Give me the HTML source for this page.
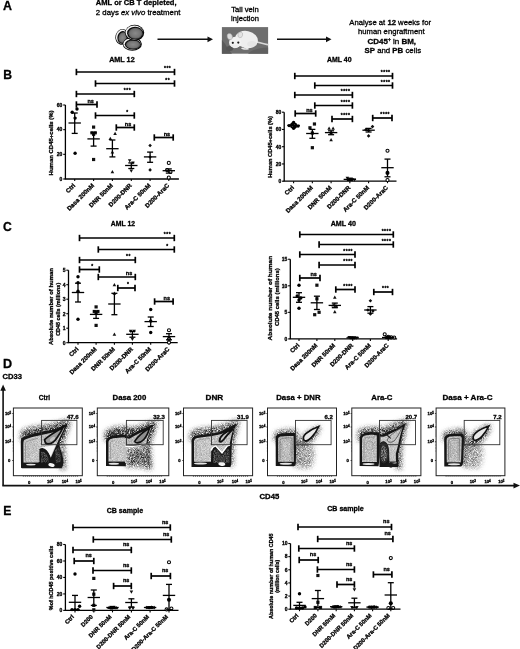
<!DOCTYPE html>
<html><head><meta charset="utf-8"><title>Figure</title>
<style>
html,body{margin:0;padding:0;background:#fff;}
svg.fig{display:block;}
svg.fig text{font-family:'Liberation Sans', Arial, Helvetica, sans-serif;fill:#000;stroke:#000;stroke-width:0.3px;}
</style></head>
<body>
<svg class="fig" width="520" height="649" viewBox="0 0 520 649">
<defs>
<radialGradient id="cellg" cx="0.5" cy="0.5" r="0.6"><stop offset="0" stop-color="#8a8a8a"/><stop offset="0.6" stop-color="#747474"/><stop offset="1" stop-color="#3c3c3c"/></radialGradient>
<filter id="blur2" x="-20%" y="-20%" width="140%" height="140%"><feGaussianBlur stdDeviation="2"/></filter>
<filter id="blur1" x="-20%" y="-20%" width="140%" height="140%"><feGaussianBlur stdDeviation="1"/></filter>
<filter id="blur05" x="-20%" y="-20%" width="140%" height="140%"><feGaussianBlur stdDeviation="0.5"/></filter>
<filter id="b04" x="-10%" y="-10%" width="120%" height="120%"><feGaussianBlur stdDeviation="0.4"/></filter>
<filter id="spk" x="-40%" y="-40%" width="180%" height="180%" color-interpolation-filters="sRGB">
<feGaussianBlur in="SourceAlpha" stdDeviation="2.4" result="d"/>
<feTurbulence type="fractalNoise" baseFrequency="1.25" numOctaves="2" seed="4" result="t"/>
<feColorMatrix in="t" type="matrix" values="0 0 0 0 0 0 0 0 0 0 0 0 0 0 0 1 0 0 0 0" result="n"/>
<feComposite in="d" in2="n" operator="arithmetic" k1="3.4" k2="-0.6" k3="0" k4="0" result="c"/>
<feColorMatrix in="c" type="matrix" values="0 0 0 0 0.17 0 0 0 0 0.17 0 0 0 0 0.17 0 0 0 1 0"/>
</filter>
<filter id="spk0" x="-10%" y="-10%" width="120%" height="120%" color-interpolation-filters="sRGB">
<feTurbulence type="fractalNoise" baseFrequency="1.25" numOctaves="2" seed="9" result="t"/>
<feColorMatrix in="t" type="matrix" values="0 0 0 0 0 0 0 0 0 0 0 0 0 0 0 1 0 0 0 0" result="n"/>
<feComposite in="SourceAlpha" in2="n" operator="arithmetic" k1="3.4" k2="-0.6" k3="0" k4="0" result="c"/>
<feColorMatrix in="c" type="matrix" values="0 0 0 0 0.12 0 0 0 0 0.12 0 0 0 0 0.12 0 0 0 1 0"/>
</filter>
<filter id="wspk" x="-10%" y="-10%" width="120%" height="120%" color-interpolation-filters="sRGB">
<feTurbulence type="fractalNoise" baseFrequency="1.1" numOctaves="2" seed="13" result="t"/>
<feColorMatrix in="t" type="matrix" values="0 0 0 0 0 0 0 0 0 0 0 0 0 0 0 1 0 0 0 0" result="n"/>
<feComposite in="SourceAlpha" in2="n" operator="arithmetic" k1="3.4" k2="-0.9" k3="0" k4="0" result="c"/>
<feColorMatrix in="c" type="matrix" values="0 0 0 0 0.75 0 0 0 0 0.75 0 0 0 0 0.75 0 0 0 1 0"/>
</filter>
</defs>
<rect width="520" height="649" fill="#fff"/>
<text x="3.00" y="10.10" font-size="12.4" font-weight="bold" >A</text>
<text x="136.20" y="5.40" font-size="7.5" font-weight="bold" text-anchor="middle" textLength="80.7" lengthAdjust="spacingAndGlyphs" >AML or CB T depleted,</text>
<text x="138.1" y="14.6" font-size="7.6" text-anchor="middle" textLength="84.6" lengthAdjust="spacingAndGlyphs">2 days <tspan font-style="italic">ex vivo</tspan> treatment</text>
<text x="245.00" y="11.90" font-size="7.6" text-anchor="middle" textLength="27.6" lengthAdjust="spacingAndGlyphs" >Tail vein</text>
<text x="245.00" y="20.60" font-size="7.6" text-anchor="middle" textLength="27.8" lengthAdjust="spacingAndGlyphs" >injection</text>
<text x="390.2" y="25.0" font-size="7.7" text-anchor="middle" textLength="81.7" lengthAdjust="spacingAndGlyphs">Analyse at <tspan font-weight="bold">12</tspan> weeks for</text>
<text x="391.3" y="34.0" font-size="7.7" text-anchor="middle" textLength="66.5" lengthAdjust="spacingAndGlyphs">human engraftment</text>
<text x="391.8" y="43.5" font-size="7.6" text-anchor="middle" textLength="48.5" lengthAdjust="spacingAndGlyphs"><tspan font-weight="bold">CD45</tspan><tspan font-size="4.5" dy="-2.6" font-weight="bold">+</tspan><tspan dy="2.6"> in </tspan><tspan font-weight="bold">BM,</tspan></text>
<text x="392.8" y="52.7" font-size="7.6" text-anchor="middle" textLength="56.5" lengthAdjust="spacingAndGlyphs"><tspan font-weight="bold">SP</tspan> and <tspan font-weight="bold">PB</tspan> cells</text>
<g transform="rotate(15 122.0 36.8)"><ellipse cx="122.0" cy="36.8" rx="6.6" ry="7.9" fill="#0a0a0a"/><ellipse cx="121.7" cy="36.599999999999994" rx="5.699999999999999" ry="7.0" fill="#f4f4f4"/><ellipse cx="122.5" cy="37.15" rx="5.0" ry="6.300000000000001" fill="#0a0a0a"/><ellipse cx="122.8" cy="37.349999999999994" rx="4.1" ry="5.4" fill="url(#cellg)"/></g>
<g transform="rotate(0 132.3 44.0)"><ellipse cx="132.3" cy="44.0" rx="9.6" ry="6.8" fill="#0a0a0a"/><ellipse cx="132.0" cy="43.8" rx="8.7" ry="5.8999999999999995" fill="#f4f4f4"/><ellipse cx="132.8" cy="44.35" rx="8.0" ry="5.199999999999999" fill="#0a0a0a"/><ellipse cx="133.10000000000002" cy="44.55" rx="7.1" ry="4.3" fill="url(#cellg)"/></g>
<g transform="rotate(0 134.6 32.8)"><ellipse cx="134.6" cy="32.8" rx="9.6" ry="8.0" fill="#0a0a0a"/><ellipse cx="134.29999999999998" cy="32.599999999999994" rx="8.7" ry="7.1" fill="#f4f4f4"/><ellipse cx="135.1" cy="33.15" rx="8.0" ry="6.4" fill="#0a0a0a"/><ellipse cx="135.4" cy="33.349999999999994" rx="7.1" ry="5.5" fill="url(#cellg)"/></g>
<line x1="157.50" y1="39.30" x2="209.00" y2="39.30" stroke="#111" stroke-width="1.5"/>
<path d="M213,39.3 L207.5,36.4 L207.5,42.2 Z" fill="#111"/>
<line x1="277.00" y1="39.30" x2="327.50" y2="39.30" stroke="#111" stroke-width="1.5"/>
<path d="M331.5,39.3 L326,36.4 L326,42.2 Z" fill="#111"/>
<g>
<rect x="221.9" y="27.1" width="46.2" height="26.6" fill="#6e6e6e"/>
<path d="M221.9,40 C226,44 228,50 232,53.7 L221.9,53.7 Z" fill="#5a5a5a"/>
<path d="M248,53.7 C252,50 258,48 268.1,47.5 L268.1,53.7 Z" fill="#606060"/>
<ellipse cx="229.6" cy="48.5" rx="3.5" ry="2.5" fill="#555"/>
<path d="M255,41.5 C259,42.5 263,44 267.5,44.6" stroke="#d8d8d8" stroke-width="1.6" fill="none" stroke-linecap="round"/>
<ellipse cx="246.5" cy="39.6" rx="11.5" ry="8.6" fill="#eeeeee" transform="rotate(12 246.5 39.6)"/>
<ellipse cx="235.2" cy="42.4" rx="6.2" ry="5.6" fill="#f2f2f2"/>
<path d="M231,45 C232,47.5 234,48.5 236,48 C238,47.5 239,46 239,45 Z" fill="#ededed"/>
<path d="M241,48.5 C243,50 246,50.3 249,49.2 L248,47.8 C246,48.3 244,48.3 242,47.6 Z" fill="#e8e8e8"/>
<ellipse cx="229.8" cy="36.6" rx="2.6" ry="3.2" fill="#dcdcdc" stroke="#9c9c9c" stroke-width="0.5" transform="rotate(-20 229.8 36.6)"/>
<ellipse cx="240.3" cy="34.8" rx="2.3" ry="2.9" fill="#e2e2e2" stroke="#aaa" stroke-width="0.5" transform="rotate(15 240.3 34.8)"/>
<circle cx="232.8" cy="42.8" r="1.1" fill="#1a1a1a"/>
<circle cx="238.3" cy="42.6" r="1.1" fill="#1a1a1a"/>
<ellipse cx="252" cy="44" rx="5" ry="3" fill="#d6d6d6" opacity="0.35"/>
</g>
<text x="3.20" y="79.00" font-size="12.2" font-weight="bold" >B</text>
<text x="2.90" y="231.30" font-size="12.2" font-weight="bold" >C</text>
<text x="3.20" y="515.40" font-size="12.2" font-weight="bold" >E</text>
<line x1="65.40" y1="179.00" x2="65.40" y2="105.00" stroke="#000" stroke-width="1.3"/>
<line x1="63.20" y1="179.00" x2="65.40" y2="179.00" stroke="#000" stroke-width="1.1"/>
<text x="62.40" y="180.80" font-size="5.0" font-weight="bold" text-anchor="end" >0</text>
<line x1="63.20" y1="154.33" x2="65.40" y2="154.33" stroke="#000" stroke-width="1.1"/>
<text x="62.40" y="156.13" font-size="5.0" font-weight="bold" text-anchor="end" >20</text>
<line x1="63.20" y1="129.67" x2="65.40" y2="129.67" stroke="#000" stroke-width="1.1"/>
<text x="62.40" y="131.47" font-size="5.0" font-weight="bold" text-anchor="end" >40</text>
<line x1="63.20" y1="105.00" x2="65.40" y2="105.00" stroke="#000" stroke-width="1.1"/>
<text x="62.40" y="106.80" font-size="5.0" font-weight="bold" text-anchor="end" >60</text>
<line x1="64.75" y1="179.00" x2="178.90" y2="179.00" stroke="#000" stroke-width="1.3"/>
<line x1="74.70" y1="179.00" x2="74.70" y2="181.00" stroke="#000" stroke-width="1.1"/>
<text x="0" y="0" font-size="6.15" font-weight="bold" text-anchor="end" transform="translate(72.50,182.80) rotate(-45) translate(0,4.43)">Ctrl</text>
<line x1="93.60" y1="179.00" x2="93.60" y2="181.00" stroke="#000" stroke-width="1.1"/>
<text x="0" y="0" font-size="6.15" font-weight="bold" text-anchor="end" transform="translate(91.40,182.80) rotate(-45) translate(0,4.43)">Dasa 200nM</text>
<line x1="112.40" y1="179.00" x2="112.40" y2="181.00" stroke="#000" stroke-width="1.1"/>
<text x="0" y="0" font-size="6.15" font-weight="bold" text-anchor="end" transform="translate(110.20,182.80) rotate(-45) translate(0,4.43)">DNR 50nM</text>
<line x1="131.30" y1="179.00" x2="131.30" y2="181.00" stroke="#000" stroke-width="1.1"/>
<text x="0" y="0" font-size="6.15" font-weight="bold" text-anchor="end" transform="translate(129.10,182.80) rotate(-45) translate(0,4.43)">D200-DNR</text>
<line x1="150.10" y1="179.00" x2="150.10" y2="181.00" stroke="#000" stroke-width="1.1"/>
<text x="0" y="0" font-size="6.15" font-weight="bold" text-anchor="end" transform="translate(147.90,182.80) rotate(-45) translate(0,4.43)">Ara-C 50nM</text>
<line x1="168.80" y1="179.00" x2="168.80" y2="181.00" stroke="#000" stroke-width="1.1"/>
<text x="0" y="0" font-size="6.15" font-weight="bold" text-anchor="end" transform="translate(166.60,182.80) rotate(-45) translate(0,4.43)">D200-AraC</text>
<text x="0" y="0" font-size="6.0" font-weight="bold" text-anchor="middle" textLength="65" lengthAdjust="spacingAndGlyphs" transform="translate(52.96,142.90) rotate(-90)">Human CD45+cells (%)</text>
<text x="121.90" y="62.00" font-size="7.2" font-weight="bold" text-anchor="middle" textLength="25.5" lengthAdjust="spacingAndGlyphs" >AML 12</text>
<circle cx="77.00" cy="109.00" r="1.70" fill="#000"/>
<circle cx="72.20" cy="112.20" r="1.70" fill="#000"/>
<circle cx="75.10" cy="118.10" r="1.70" fill="#000"/>
<circle cx="75.10" cy="153.30" r="1.70" fill="#000"/>
<line x1="68.50" y1="123.00" x2="80.90" y2="123.00" stroke="#000" stroke-width="1.3"/>
<line x1="74.70" y1="113.00" x2="74.70" y2="133.40" stroke="#000" stroke-width="1.3"/>
<line x1="71.70" y1="113.00" x2="77.70" y2="113.00" stroke="#000" stroke-width="1.3"/>
<line x1="71.70" y1="133.40" x2="77.70" y2="133.40" stroke="#000" stroke-width="1.3"/>
<rect x="92.00" y="125.50" width="3.20" height="3.20" fill="#111"/>
<rect x="90.40" y="131.20" width="3.20" height="3.20" fill="#111"/>
<rect x="93.60" y="131.20" width="3.20" height="3.20" fill="#111"/>
<rect x="92.00" y="132.70" width="3.20" height="3.20" fill="#111"/>
<rect x="92.00" y="157.90" width="3.20" height="3.20" fill="#111"/>
<line x1="87.40" y1="138.90" x2="99.80" y2="138.90" stroke="#000" stroke-width="1.3"/>
<line x1="93.60" y1="132.60" x2="93.60" y2="146.10" stroke="#000" stroke-width="1.3"/>
<line x1="90.60" y1="132.60" x2="96.60" y2="132.60" stroke="#000" stroke-width="1.3"/>
<line x1="90.60" y1="146.10" x2="96.60" y2="146.10" stroke="#000" stroke-width="1.3"/>
<path d="M115.10,131.80L116.90,135.04L113.30,135.04Z" fill="#111"/>
<path d="M110.30,136.80L112.10,140.04L108.50,140.04Z" fill="#111"/>
<path d="M112.40,150.30L114.20,153.54L110.60,153.54Z" fill="#111"/>
<path d="M112.40,169.90L114.20,173.14L110.60,173.14Z" fill="#111"/>
<line x1="106.20" y1="148.70" x2="118.60" y2="148.70" stroke="#000" stroke-width="1.3"/>
<line x1="112.40" y1="140.00" x2="112.40" y2="156.90" stroke="#000" stroke-width="1.3"/>
<line x1="109.40" y1="140.00" x2="115.40" y2="140.00" stroke="#000" stroke-width="1.3"/>
<line x1="109.40" y1="156.90" x2="115.40" y2="156.90" stroke="#000" stroke-width="1.3"/>
<path d="M129.70,162.60L131.50,159.36L127.90,159.36Z" fill="#111"/>
<path d="M132.90,164.70L134.70,161.46L131.10,161.46Z" fill="#111"/>
<path d="M131.30,172.80L133.10,169.56L129.50,169.56Z" fill="#111"/>
<line x1="125.10" y1="165.50" x2="137.50" y2="165.50" stroke="#000" stroke-width="1.3"/>
<line x1="131.30" y1="162.90" x2="131.30" y2="168.50" stroke="#000" stroke-width="1.3"/>
<line x1="128.30" y1="162.90" x2="134.30" y2="162.90" stroke="#000" stroke-width="1.3"/>
<line x1="128.30" y1="168.50" x2="134.30" y2="168.50" stroke="#000" stroke-width="1.3"/>
<path d="M150.10,143.70L151.90,145.50L150.10,147.30L148.30,145.50Z" fill="#111"/>
<path d="M150.10,155.20L151.90,157.00L150.10,158.80L148.30,157.00Z" fill="#111"/>
<path d="M150.10,168.10L151.90,169.90L150.10,171.70L148.30,169.90Z" fill="#111"/>
<line x1="143.90" y1="156.90" x2="156.30" y2="156.90" stroke="#000" stroke-width="1.3"/>
<line x1="150.10" y1="152.10" x2="150.10" y2="162.30" stroke="#000" stroke-width="1.3"/>
<line x1="147.10" y1="152.10" x2="153.10" y2="152.10" stroke="#000" stroke-width="1.3"/>
<line x1="147.10" y1="162.30" x2="153.10" y2="162.30" stroke="#000" stroke-width="1.3"/>
<circle cx="168.80" cy="162.90" r="1.55" fill="#fff" stroke="#000" stroke-width="1.05"/>
<circle cx="167.10" cy="170.10" r="1.55" fill="#fff" stroke="#000" stroke-width="1.05"/>
<circle cx="170.50" cy="171.90" r="1.55" fill="#fff" stroke="#000" stroke-width="1.05"/>
<circle cx="168.80" cy="177.60" r="1.55" fill="#fff" stroke="#000" stroke-width="1.05"/>
<line x1="162.60" y1="170.70" x2="175.00" y2="170.70" stroke="#000" stroke-width="1.3"/>
<line x1="168.80" y1="168.90" x2="168.80" y2="173.10" stroke="#000" stroke-width="1.3"/>
<line x1="165.80" y1="168.90" x2="171.80" y2="168.90" stroke="#000" stroke-width="1.3"/>
<line x1="165.80" y1="173.10" x2="171.80" y2="173.10" stroke="#000" stroke-width="1.3"/>
<line x1="76.40" y1="72.00" x2="174.50" y2="72.00" stroke="#000" stroke-width="1.7"/>
<line x1="76.40" y1="68.80" x2="76.40" y2="75.20" stroke="#000" stroke-width="1.7"/>
<line x1="174.50" y1="68.80" x2="174.50" y2="75.20" stroke="#000" stroke-width="1.7"/>
<text x="167.67" y="70.20" font-size="4.8" font-weight="bold" text-anchor="middle" letter-spacing="0.55">***</text>
<line x1="95.50" y1="83.50" x2="174.50" y2="83.50" stroke="#000" stroke-width="1.7"/>
<line x1="95.50" y1="80.30" x2="95.50" y2="86.70" stroke="#000" stroke-width="1.7"/>
<line x1="174.50" y1="80.30" x2="174.50" y2="86.70" stroke="#000" stroke-width="1.7"/>
<text x="167.67" y="81.70" font-size="4.8" font-weight="bold" text-anchor="middle" letter-spacing="0.55">**</text>
<line x1="76.40" y1="94.00" x2="134.30" y2="94.00" stroke="#000" stroke-width="1.7"/>
<line x1="76.40" y1="90.80" x2="76.40" y2="97.20" stroke="#000" stroke-width="1.7"/>
<line x1="134.30" y1="90.80" x2="134.30" y2="97.20" stroke="#000" stroke-width="1.7"/>
<text x="127.48" y="92.20" font-size="4.8" font-weight="bold" text-anchor="middle" letter-spacing="0.55">***</text>
<line x1="76.40" y1="104.50" x2="97.00" y2="104.50" stroke="#000" stroke-width="1.7"/>
<line x1="76.40" y1="101.30" x2="76.40" y2="107.70" stroke="#000" stroke-width="1.7"/>
<line x1="97.00" y1="101.30" x2="97.00" y2="107.70" stroke="#000" stroke-width="1.7"/>
<text x="90.70" y="102.60" font-size="5.5" font-weight="bold" text-anchor="middle" >ns</text>
<line x1="95.50" y1="115.50" x2="134.30" y2="115.50" stroke="#000" stroke-width="1.7"/>
<line x1="95.50" y1="112.30" x2="95.50" y2="118.70" stroke="#000" stroke-width="1.7"/>
<line x1="134.30" y1="112.30" x2="134.30" y2="118.70" stroke="#000" stroke-width="1.7"/>
<text x="127.48" y="113.70" font-size="4.8" font-weight="bold" text-anchor="middle" letter-spacing="0.55">*</text>
<line x1="116.30" y1="127.50" x2="134.30" y2="127.50" stroke="#000" stroke-width="1.7"/>
<line x1="116.30" y1="124.30" x2="116.30" y2="130.70" stroke="#000" stroke-width="1.7"/>
<line x1="134.30" y1="124.30" x2="134.30" y2="130.70" stroke="#000" stroke-width="1.7"/>
<text x="128.00" y="125.60" font-size="5.5" font-weight="bold" text-anchor="middle" >ns</text>
<line x1="154.30" y1="137.50" x2="173.20" y2="137.50" stroke="#000" stroke-width="1.7"/>
<line x1="154.30" y1="134.30" x2="154.30" y2="140.70" stroke="#000" stroke-width="1.7"/>
<line x1="173.20" y1="134.30" x2="173.20" y2="140.70" stroke="#000" stroke-width="1.7"/>
<text x="166.90" y="135.60" font-size="5.5" font-weight="bold" text-anchor="middle" >ns</text>
<line x1="284.20" y1="181.20" x2="284.20" y2="112.20" stroke="#000" stroke-width="1.3"/>
<line x1="282.00" y1="181.20" x2="284.20" y2="181.20" stroke="#000" stroke-width="1.1"/>
<text x="281.20" y="183.00" font-size="5.0" font-weight="bold" text-anchor="end" >0</text>
<line x1="282.00" y1="163.95" x2="284.20" y2="163.95" stroke="#000" stroke-width="1.1"/>
<text x="281.20" y="165.75" font-size="5.0" font-weight="bold" text-anchor="end" >20</text>
<line x1="282.00" y1="146.70" x2="284.20" y2="146.70" stroke="#000" stroke-width="1.1"/>
<text x="281.20" y="148.50" font-size="5.0" font-weight="bold" text-anchor="end" >40</text>
<line x1="282.00" y1="129.45" x2="284.20" y2="129.45" stroke="#000" stroke-width="1.1"/>
<text x="281.20" y="131.25" font-size="5.0" font-weight="bold" text-anchor="end" >60</text>
<line x1="282.00" y1="112.20" x2="284.20" y2="112.20" stroke="#000" stroke-width="1.1"/>
<text x="281.20" y="114.00" font-size="5.0" font-weight="bold" text-anchor="end" >80</text>
<line x1="283.55" y1="181.20" x2="396.50" y2="181.20" stroke="#000" stroke-width="1.3"/>
<line x1="293.60" y1="181.20" x2="293.60" y2="183.20" stroke="#000" stroke-width="1.1"/>
<text x="0" y="0" font-size="6.15" font-weight="bold" text-anchor="end" transform="translate(291.40,185.00) rotate(-45) translate(0,4.43)">Ctrl</text>
<line x1="312.35" y1="181.20" x2="312.35" y2="183.20" stroke="#000" stroke-width="1.1"/>
<text x="0" y="0" font-size="6.15" font-weight="bold" text-anchor="end" transform="translate(310.15,185.00) rotate(-45) translate(0,4.43)">Dasa 200nM</text>
<line x1="331.10" y1="181.20" x2="331.10" y2="183.20" stroke="#000" stroke-width="1.1"/>
<text x="0" y="0" font-size="6.15" font-weight="bold" text-anchor="end" transform="translate(328.90,185.00) rotate(-45) translate(0,4.43)">DNR 50nM</text>
<line x1="349.85" y1="181.20" x2="349.85" y2="183.20" stroke="#000" stroke-width="1.1"/>
<text x="0" y="0" font-size="6.15" font-weight="bold" text-anchor="end" transform="translate(347.65,185.00) rotate(-45) translate(0,4.43)">D200-DNR</text>
<line x1="368.60" y1="181.20" x2="368.60" y2="183.20" stroke="#000" stroke-width="1.1"/>
<text x="0" y="0" font-size="6.15" font-weight="bold" text-anchor="end" transform="translate(366.40,185.00) rotate(-45) translate(0,4.43)">Ara-C 50nM</text>
<line x1="387.50" y1="181.20" x2="387.50" y2="183.20" stroke="#000" stroke-width="1.1"/>
<text x="0" y="0" font-size="6.15" font-weight="bold" text-anchor="end" transform="translate(385.30,185.00) rotate(-45) translate(0,4.43)">D200-AraC</text>
<text x="0" y="0" font-size="5.7" font-weight="bold" text-anchor="middle" textLength="61.7" lengthAdjust="spacingAndGlyphs" transform="translate(271.85,146.90) rotate(-90)">Human CD45+cells (%)</text>
<text x="339.30" y="62.00" font-size="7.2" font-weight="bold" text-anchor="middle" textLength="24.7" lengthAdjust="spacingAndGlyphs" >AML 40</text>
<circle cx="293.60" cy="122.50" r="1.70" fill="#000"/>
<circle cx="291.40" cy="125.40" r="1.70" fill="#000"/>
<circle cx="295.80" cy="125.40" r="1.70" fill="#000"/>
<circle cx="293.60" cy="128.20" r="1.70" fill="#000"/>
<circle cx="289.10" cy="125.60" r="1.70" fill="#000"/>
<circle cx="298.10" cy="126.10" r="1.70" fill="#000"/>
<circle cx="292.60" cy="124.00" r="1.70" fill="#000"/>
<circle cx="294.60" cy="127.00" r="1.70" fill="#000"/>
<line x1="287.40" y1="125.40" x2="299.80" y2="125.40" stroke="#000" stroke-width="1.3"/>
<line x1="293.60" y1="123.60" x2="293.60" y2="127.40" stroke="#000" stroke-width="1.3"/>
<line x1="290.60" y1="123.60" x2="296.60" y2="123.60" stroke="#000" stroke-width="1.3"/>
<line x1="290.60" y1="127.40" x2="296.60" y2="127.40" stroke="#000" stroke-width="1.3"/>
<rect x="312.85" y="122.40" width="3.20" height="3.20" fill="#111"/>
<rect x="308.35" y="126.20" width="3.20" height="3.20" fill="#111"/>
<rect x="310.75" y="131.40" width="3.20" height="3.20" fill="#111"/>
<rect x="310.75" y="146.10" width="3.20" height="3.20" fill="#111"/>
<line x1="306.15" y1="133.50" x2="318.55" y2="133.50" stroke="#000" stroke-width="1.3"/>
<line x1="312.35" y1="129.40" x2="312.35" y2="138.30" stroke="#000" stroke-width="1.3"/>
<line x1="309.35" y1="129.40" x2="315.35" y2="129.40" stroke="#000" stroke-width="1.3"/>
<line x1="309.35" y1="138.30" x2="315.35" y2="138.30" stroke="#000" stroke-width="1.3"/>
<path d="M329.10,126.60L330.90,129.84L327.30,129.84Z" fill="#111"/>
<path d="M333.10,126.60L334.90,129.84L331.30,129.84Z" fill="#111"/>
<path d="M331.10,130.80L332.90,134.04L329.30,134.04Z" fill="#111"/>
<path d="M331.10,138.10L332.90,141.34L329.30,141.34Z" fill="#111"/>
<line x1="324.90" y1="132.60" x2="337.30" y2="132.60" stroke="#000" stroke-width="1.3"/>
<line x1="331.10" y1="130.80" x2="331.10" y2="134.70" stroke="#000" stroke-width="1.3"/>
<line x1="328.10" y1="130.80" x2="334.10" y2="130.80" stroke="#000" stroke-width="1.3"/>
<line x1="328.10" y1="134.70" x2="334.10" y2="134.70" stroke="#000" stroke-width="1.3"/>
<path d="M347.35,180.10L349.15,176.86L345.55,176.86Z" fill="#111"/>
<path d="M349.85,181.30L351.65,178.06L348.05,178.06Z" fill="#111"/>
<path d="M352.35,181.60L354.15,178.36L350.55,178.36Z" fill="#111"/>
<path d="M354.35,181.80L356.15,178.56L352.55,178.56Z" fill="#111"/>
<line x1="343.65" y1="179.40" x2="356.05" y2="179.40" stroke="#000" stroke-width="1.3"/>
<line x1="349.85" y1="178.20" x2="349.85" y2="180.40" stroke="#000" stroke-width="1.3"/>
<line x1="346.85" y1="178.20" x2="352.85" y2="178.20" stroke="#000" stroke-width="1.3"/>
<line x1="346.85" y1="180.40" x2="352.85" y2="180.40" stroke="#000" stroke-width="1.3"/>
<path d="M372.50,124.80L374.30,126.60L372.50,128.40L370.70,126.60Z" fill="#111"/>
<path d="M366.00,127.80L367.80,129.60L366.00,131.40L364.20,129.60Z" fill="#111"/>
<path d="M368.60,128.70L370.40,130.50L368.60,132.30L366.80,130.50Z" fill="#111"/>
<path d="M368.60,134.10L370.40,135.90L368.60,137.70L366.80,135.90Z" fill="#111"/>
<line x1="362.40" y1="130.20" x2="374.80" y2="130.20" stroke="#000" stroke-width="1.3"/>
<line x1="368.60" y1="128.40" x2="368.60" y2="132.00" stroke="#000" stroke-width="1.3"/>
<line x1="365.60" y1="128.40" x2="371.60" y2="128.40" stroke="#000" stroke-width="1.3"/>
<line x1="365.60" y1="132.00" x2="371.60" y2="132.00" stroke="#000" stroke-width="1.3"/>
<circle cx="387.50" cy="150.70" r="1.55" fill="#fff" stroke="#000" stroke-width="1.05"/>
<circle cx="387.50" cy="180.10" r="1.55" fill="#fff" stroke="#000" stroke-width="1.05"/>
<line x1="381.30" y1="167.70" x2="393.70" y2="167.70" stroke="#000" stroke-width="1.3"/>
<line x1="387.50" y1="159.10" x2="387.50" y2="176.80" stroke="#000" stroke-width="1.3"/>
<line x1="384.50" y1="159.10" x2="390.50" y2="159.10" stroke="#000" stroke-width="1.3"/>
<line x1="384.50" y1="176.80" x2="390.50" y2="176.80" stroke="#000" stroke-width="1.3"/>
<circle cx="387.50" cy="172.90" r="2.04" fill="#000"/>
<line x1="294.80" y1="76.00" x2="392.50" y2="76.00" stroke="#000" stroke-width="1.7"/>
<line x1="294.80" y1="72.80" x2="294.80" y2="79.20" stroke="#000" stroke-width="1.7"/>
<line x1="392.50" y1="72.80" x2="392.50" y2="79.20" stroke="#000" stroke-width="1.7"/>
<text x="385.67" y="74.20" font-size="4.8" font-weight="bold" text-anchor="middle" letter-spacing="0.55">****</text>
<line x1="314.80" y1="85.50" x2="392.50" y2="85.50" stroke="#000" stroke-width="1.7"/>
<line x1="314.80" y1="82.30" x2="314.80" y2="88.70" stroke="#000" stroke-width="1.7"/>
<line x1="392.50" y1="82.30" x2="392.50" y2="88.70" stroke="#000" stroke-width="1.7"/>
<text x="385.67" y="83.70" font-size="4.8" font-weight="bold" text-anchor="middle" letter-spacing="0.55">****</text>
<line x1="294.80" y1="95.00" x2="352.40" y2="95.00" stroke="#000" stroke-width="1.7"/>
<line x1="294.80" y1="91.80" x2="294.80" y2="98.20" stroke="#000" stroke-width="1.7"/>
<line x1="352.40" y1="91.80" x2="352.40" y2="98.20" stroke="#000" stroke-width="1.7"/>
<text x="345.57" y="93.20" font-size="4.8" font-weight="bold" text-anchor="middle" letter-spacing="0.55">****</text>
<line x1="314.80" y1="105.50" x2="352.40" y2="105.50" stroke="#000" stroke-width="1.7"/>
<line x1="314.80" y1="102.30" x2="314.80" y2="108.70" stroke="#000" stroke-width="1.7"/>
<line x1="352.40" y1="102.30" x2="352.40" y2="108.70" stroke="#000" stroke-width="1.7"/>
<text x="345.57" y="103.70" font-size="4.8" font-weight="bold" text-anchor="middle" letter-spacing="0.55">****</text>
<line x1="295.20" y1="113.50" x2="315.70" y2="113.50" stroke="#000" stroke-width="1.7"/>
<line x1="295.20" y1="110.30" x2="295.20" y2="116.70" stroke="#000" stroke-width="1.7"/>
<line x1="315.70" y1="110.30" x2="315.70" y2="116.70" stroke="#000" stroke-width="1.7"/>
<text x="309.40" y="111.60" font-size="5.5" font-weight="bold" text-anchor="middle" >ns</text>
<line x1="332.00" y1="119.00" x2="352.40" y2="119.00" stroke="#000" stroke-width="1.7"/>
<line x1="332.00" y1="115.80" x2="332.00" y2="122.20" stroke="#000" stroke-width="1.7"/>
<line x1="352.40" y1="115.80" x2="352.40" y2="122.20" stroke="#000" stroke-width="1.7"/>
<text x="345.57" y="117.20" font-size="4.8" font-weight="bold" text-anchor="middle" letter-spacing="0.55">****</text>
<line x1="372.70" y1="118.00" x2="392.00" y2="118.00" stroke="#000" stroke-width="1.7"/>
<line x1="372.70" y1="114.80" x2="372.70" y2="121.20" stroke="#000" stroke-width="1.7"/>
<line x1="392.00" y1="114.80" x2="392.00" y2="121.20" stroke="#000" stroke-width="1.7"/>
<text x="385.17" y="116.20" font-size="4.8" font-weight="bold" text-anchor="middle" letter-spacing="0.55">****</text>
<line x1="68.50" y1="342.70" x2="68.50" y2="270.20" stroke="#000" stroke-width="1.3"/>
<line x1="66.30" y1="342.70" x2="68.50" y2="342.70" stroke="#000" stroke-width="1.1"/>
<text x="65.50" y="344.50" font-size="5.0" font-weight="bold" text-anchor="end" >0</text>
<line x1="66.30" y1="328.20" x2="68.50" y2="328.20" stroke="#000" stroke-width="1.1"/>
<text x="65.50" y="330.00" font-size="5.0" font-weight="bold" text-anchor="end" >1</text>
<line x1="66.30" y1="313.70" x2="68.50" y2="313.70" stroke="#000" stroke-width="1.1"/>
<text x="65.50" y="315.50" font-size="5.0" font-weight="bold" text-anchor="end" >2</text>
<line x1="66.30" y1="299.20" x2="68.50" y2="299.20" stroke="#000" stroke-width="1.1"/>
<text x="65.50" y="301.00" font-size="5.0" font-weight="bold" text-anchor="end" >3</text>
<line x1="66.30" y1="284.70" x2="68.50" y2="284.70" stroke="#000" stroke-width="1.1"/>
<text x="65.50" y="286.50" font-size="5.0" font-weight="bold" text-anchor="end" >4</text>
<line x1="66.30" y1="270.20" x2="68.50" y2="270.20" stroke="#000" stroke-width="1.1"/>
<text x="65.50" y="272.00" font-size="5.0" font-weight="bold" text-anchor="end" >5</text>
<line x1="67.85" y1="342.70" x2="177.70" y2="342.70" stroke="#000" stroke-width="1.3"/>
<line x1="78.00" y1="342.70" x2="78.00" y2="344.70" stroke="#000" stroke-width="1.1"/>
<text x="0" y="0" font-size="6.15" font-weight="bold" text-anchor="end" transform="translate(75.80,346.50) rotate(-45) translate(0,4.43)">Ctrl</text>
<line x1="96.10" y1="342.70" x2="96.10" y2="344.70" stroke="#000" stroke-width="1.1"/>
<text x="0" y="0" font-size="6.15" font-weight="bold" text-anchor="end" transform="translate(93.90,346.50) rotate(-45) translate(0,4.43)">Dasa 200nM</text>
<line x1="114.40" y1="342.70" x2="114.40" y2="344.70" stroke="#000" stroke-width="1.1"/>
<text x="0" y="0" font-size="6.15" font-weight="bold" text-anchor="end" transform="translate(112.20,346.50) rotate(-45) translate(0,4.43)">DNR 50nM</text>
<line x1="132.40" y1="342.70" x2="132.40" y2="344.70" stroke="#000" stroke-width="1.1"/>
<text x="0" y="0" font-size="6.15" font-weight="bold" text-anchor="end" transform="translate(130.20,346.50) rotate(-45) translate(0,4.43)">D200-DNR</text>
<line x1="150.70" y1="342.70" x2="150.70" y2="344.70" stroke="#000" stroke-width="1.1"/>
<text x="0" y="0" font-size="6.15" font-weight="bold" text-anchor="end" transform="translate(148.50,346.50) rotate(-45) translate(0,4.43)">Ara-C 50nM</text>
<line x1="169.00" y1="342.70" x2="169.00" y2="344.70" stroke="#000" stroke-width="1.1"/>
<text x="0" y="0" font-size="6.15" font-weight="bold" text-anchor="end" transform="translate(166.80,346.50) rotate(-45) translate(0,4.43)">D200-AraC</text>
<text x="0" y="0" font-size="5.9" font-weight="bold" text-anchor="middle" textLength="77" lengthAdjust="spacingAndGlyphs" transform="translate(52.92,306.60) rotate(-90)">Absolute number of human</text>
<text x="0" y="0" font-size="5.9" font-weight="bold" text-anchor="middle" textLength="53" lengthAdjust="spacingAndGlyphs" transform="translate(59.52,309.30) rotate(-90)">CD45 cells (millions)</text>
<text x="122.90" y="225.60" font-size="7.2" font-weight="bold" text-anchor="middle" textLength="24.3" lengthAdjust="spacingAndGlyphs" >AML 12</text>
<circle cx="78.00" cy="276.80" r="1.70" fill="#000"/>
<circle cx="78.00" cy="282.80" r="1.70" fill="#000"/>
<circle cx="78.00" cy="291.30" r="1.70" fill="#000"/>
<circle cx="78.00" cy="319.20" r="1.70" fill="#000"/>
<line x1="71.80" y1="292.50" x2="84.20" y2="292.50" stroke="#000" stroke-width="1.3"/>
<line x1="78.00" y1="283.20" x2="78.00" y2="302.00" stroke="#000" stroke-width="1.3"/>
<line x1="75.00" y1="283.20" x2="81.00" y2="283.20" stroke="#000" stroke-width="1.3"/>
<line x1="75.00" y1="302.00" x2="81.00" y2="302.00" stroke="#000" stroke-width="1.3"/>
<rect x="94.50" y="305.30" width="3.20" height="3.20" fill="#111"/>
<rect x="92.70" y="309.90" width="3.20" height="3.20" fill="#111"/>
<rect x="96.30" y="309.90" width="3.20" height="3.20" fill="#111"/>
<rect x="94.50" y="311.20" width="3.20" height="3.20" fill="#111"/>
<rect x="94.50" y="323.80" width="3.20" height="3.20" fill="#111"/>
<line x1="89.90" y1="314.40" x2="102.30" y2="314.40" stroke="#000" stroke-width="1.3"/>
<line x1="96.10" y1="311.00" x2="96.10" y2="318.40" stroke="#000" stroke-width="1.3"/>
<line x1="93.10" y1="311.00" x2="99.10" y2="311.00" stroke="#000" stroke-width="1.3"/>
<line x1="93.10" y1="318.40" x2="99.10" y2="318.40" stroke="#000" stroke-width="1.3"/>
<path d="M114.40,282.90L116.20,286.14L112.60,286.14Z" fill="#111"/>
<path d="M114.40,291.50L116.20,294.74L112.60,294.74Z" fill="#111"/>
<path d="M114.40,332.60L116.20,335.84L112.60,335.84Z" fill="#111"/>
<line x1="108.20" y1="304.00" x2="120.60" y2="304.00" stroke="#000" stroke-width="1.3"/>
<line x1="114.40" y1="293.30" x2="114.40" y2="314.70" stroke="#000" stroke-width="1.3"/>
<line x1="111.40" y1="293.30" x2="117.40" y2="293.30" stroke="#000" stroke-width="1.3"/>
<line x1="111.40" y1="314.70" x2="117.40" y2="314.70" stroke="#000" stroke-width="1.3"/>
<path d="M130.70,333.00L132.50,329.76L128.90,329.76Z" fill="#111"/>
<path d="M134.10,333.00L135.90,329.76L132.30,329.76Z" fill="#111"/>
<path d="M132.40,341.00L134.20,337.76L130.60,337.76Z" fill="#111"/>
<line x1="126.20" y1="334.30" x2="138.60" y2="334.30" stroke="#000" stroke-width="1.3"/>
<line x1="132.40" y1="331.40" x2="132.40" y2="337.20" stroke="#000" stroke-width="1.3"/>
<line x1="129.40" y1="331.40" x2="135.40" y2="331.40" stroke="#000" stroke-width="1.3"/>
<line x1="129.40" y1="337.20" x2="135.40" y2="337.20" stroke="#000" stroke-width="1.3"/>
<circle cx="150.70" cy="309.50" r="1.70" fill="#000"/>
<circle cx="150.70" cy="321.00" r="1.70" fill="#000"/>
<circle cx="150.70" cy="332.50" r="1.70" fill="#000"/>
<line x1="144.50" y1="321.60" x2="156.90" y2="321.60" stroke="#000" stroke-width="1.3"/>
<line x1="150.70" y1="317.00" x2="150.70" y2="326.50" stroke="#000" stroke-width="1.3"/>
<line x1="147.70" y1="317.00" x2="153.70" y2="317.00" stroke="#000" stroke-width="1.3"/>
<line x1="147.70" y1="326.50" x2="153.70" y2="326.50" stroke="#000" stroke-width="1.3"/>
<circle cx="169.00" cy="330.20" r="1.55" fill="#fff" stroke="#000" stroke-width="1.05"/>
<circle cx="169.00" cy="338.90" r="1.55" fill="#fff" stroke="#000" stroke-width="1.05"/>
<circle cx="169.00" cy="342.40" r="1.55" fill="#fff" stroke="#000" stroke-width="1.05"/>
<line x1="162.80" y1="336.60" x2="175.20" y2="336.60" stroke="#000" stroke-width="1.3"/>
<line x1="169.00" y1="333.70" x2="169.00" y2="339.80" stroke="#000" stroke-width="1.3"/>
<line x1="166.00" y1="333.70" x2="172.00" y2="333.70" stroke="#000" stroke-width="1.3"/>
<line x1="166.00" y1="339.80" x2="172.00" y2="339.80" stroke="#000" stroke-width="1.3"/>
<line x1="79.50" y1="238.00" x2="174.30" y2="238.00" stroke="#000" stroke-width="1.7"/>
<line x1="79.50" y1="234.80" x2="79.50" y2="241.20" stroke="#000" stroke-width="1.7"/>
<line x1="174.30" y1="234.80" x2="174.30" y2="241.20" stroke="#000" stroke-width="1.7"/>
<text x="167.47" y="236.20" font-size="4.8" font-weight="bold" text-anchor="middle" letter-spacing="0.55">***</text>
<line x1="98.30" y1="249.50" x2="174.30" y2="249.50" stroke="#000" stroke-width="1.7"/>
<line x1="98.30" y1="246.30" x2="98.30" y2="252.70" stroke="#000" stroke-width="1.7"/>
<line x1="174.30" y1="246.30" x2="174.30" y2="252.70" stroke="#000" stroke-width="1.7"/>
<text x="167.47" y="247.70" font-size="4.8" font-weight="bold" text-anchor="middle" letter-spacing="0.55">*</text>
<line x1="79.50" y1="260.00" x2="135.30" y2="260.00" stroke="#000" stroke-width="1.7"/>
<line x1="79.50" y1="256.80" x2="79.50" y2="263.20" stroke="#000" stroke-width="1.7"/>
<line x1="135.30" y1="256.80" x2="135.30" y2="263.20" stroke="#000" stroke-width="1.7"/>
<text x="128.47" y="258.20" font-size="4.8" font-weight="bold" text-anchor="middle" letter-spacing="0.55">**</text>
<line x1="79.50" y1="269.50" x2="99.30" y2="269.50" stroke="#000" stroke-width="1.7"/>
<line x1="79.50" y1="266.30" x2="79.50" y2="272.70" stroke="#000" stroke-width="1.7"/>
<line x1="99.30" y1="266.30" x2="99.30" y2="272.70" stroke="#000" stroke-width="1.7"/>
<text x="92.48" y="267.70" font-size="4.8" font-weight="bold" text-anchor="middle" letter-spacing="0.55">*</text>
<line x1="98.30" y1="277.00" x2="135.30" y2="277.00" stroke="#000" stroke-width="1.7"/>
<line x1="98.30" y1="273.80" x2="98.30" y2="280.20" stroke="#000" stroke-width="1.7"/>
<line x1="135.30" y1="273.80" x2="135.30" y2="280.20" stroke="#000" stroke-width="1.7"/>
<text x="129.00" y="275.10" font-size="5.5" font-weight="bold" text-anchor="middle" >ns</text>
<line x1="117.80" y1="288.00" x2="135.00" y2="288.00" stroke="#000" stroke-width="1.7"/>
<line x1="117.80" y1="284.80" x2="117.80" y2="291.20" stroke="#000" stroke-width="1.7"/>
<line x1="135.00" y1="284.80" x2="135.00" y2="291.20" stroke="#000" stroke-width="1.7"/>
<text x="128.17" y="286.20" font-size="4.8" font-weight="bold" text-anchor="middle" letter-spacing="0.55">*</text>
<line x1="154.60" y1="301.50" x2="173.10" y2="301.50" stroke="#000" stroke-width="1.7"/>
<line x1="154.60" y1="298.30" x2="154.60" y2="304.70" stroke="#000" stroke-width="1.7"/>
<line x1="173.10" y1="298.30" x2="173.10" y2="304.70" stroke="#000" stroke-width="1.7"/>
<text x="166.80" y="299.60" font-size="5.5" font-weight="bold" text-anchor="middle" >ns</text>
<line x1="290.30" y1="338.90" x2="290.30" y2="259.25" stroke="#000" stroke-width="1.3"/>
<line x1="288.10" y1="338.90" x2="290.30" y2="338.90" stroke="#000" stroke-width="1.1"/>
<text x="287.30" y="340.70" font-size="5.0" font-weight="bold" text-anchor="end" >0</text>
<line x1="288.10" y1="312.35" x2="290.30" y2="312.35" stroke="#000" stroke-width="1.1"/>
<text x="287.30" y="314.15" font-size="5.0" font-weight="bold" text-anchor="end" >5</text>
<line x1="288.10" y1="285.80" x2="290.30" y2="285.80" stroke="#000" stroke-width="1.1"/>
<text x="287.30" y="287.60" font-size="5.0" font-weight="bold" text-anchor="end" >10</text>
<line x1="288.10" y1="259.25" x2="290.30" y2="259.25" stroke="#000" stroke-width="1.1"/>
<text x="287.30" y="261.05" font-size="5.0" font-weight="bold" text-anchor="end" >15</text>
<line x1="289.65" y1="338.90" x2="397.10" y2="338.90" stroke="#000" stroke-width="1.3"/>
<line x1="299.00" y1="338.90" x2="299.00" y2="340.90" stroke="#000" stroke-width="1.1"/>
<text x="0" y="0" font-size="6.15" font-weight="bold" text-anchor="end" transform="translate(296.80,342.70) rotate(-45) translate(0,4.43)">Ctrl</text>
<line x1="316.90" y1="338.90" x2="316.90" y2="340.90" stroke="#000" stroke-width="1.1"/>
<text x="0" y="0" font-size="6.15" font-weight="bold" text-anchor="end" transform="translate(314.70,342.70) rotate(-45) translate(0,4.43)">Dasa 200nM</text>
<line x1="334.80" y1="338.90" x2="334.80" y2="340.90" stroke="#000" stroke-width="1.1"/>
<text x="0" y="0" font-size="6.15" font-weight="bold" text-anchor="end" transform="translate(332.60,342.70) rotate(-45) translate(0,4.43)">DNR 50nM</text>
<line x1="352.70" y1="338.90" x2="352.70" y2="340.90" stroke="#000" stroke-width="1.1"/>
<text x="0" y="0" font-size="6.15" font-weight="bold" text-anchor="end" transform="translate(350.50,342.70) rotate(-45) translate(0,4.43)">D200-DNR</text>
<line x1="370.40" y1="338.90" x2="370.40" y2="340.90" stroke="#000" stroke-width="1.1"/>
<text x="0" y="0" font-size="6.15" font-weight="bold" text-anchor="end" transform="translate(368.20,342.70) rotate(-45) translate(0,4.43)">Ara-C 50nM</text>
<line x1="388.20" y1="338.90" x2="388.20" y2="340.90" stroke="#000" stroke-width="1.1"/>
<text x="0" y="0" font-size="6.15" font-weight="bold" text-anchor="end" transform="translate(386.00,342.70) rotate(-45) translate(0,4.43)">D200-AraC</text>
<text x="0" y="0" font-size="6.2" font-weight="bold" text-anchor="middle" textLength="84.6" lengthAdjust="spacingAndGlyphs" transform="translate(271.83,298.10) rotate(-90)">Absolute number of human</text>
<text x="0" y="0" font-size="6.2" font-weight="bold" text-anchor="middle" textLength="57.7" lengthAdjust="spacingAndGlyphs" transform="translate(278.53,297.20) rotate(-90)">CD45 cells (millions)</text>
<text x="343.30" y="226.30" font-size="7.2" font-weight="bold" text-anchor="middle" textLength="25.3" lengthAdjust="spacingAndGlyphs" >AML 40</text>
<circle cx="299.00" cy="285.20" r="1.70" fill="#000"/>
<circle cx="297.20" cy="296.00" r="1.70" fill="#000"/>
<circle cx="300.80" cy="298.00" r="1.70" fill="#000"/>
<circle cx="299.00" cy="300.00" r="1.70" fill="#000"/>
<circle cx="299.00" cy="308.30" r="1.70" fill="#000"/>
<line x1="292.80" y1="297.30" x2="305.20" y2="297.30" stroke="#000" stroke-width="1.3"/>
<line x1="299.00" y1="292.70" x2="299.00" y2="302.30" stroke="#000" stroke-width="1.3"/>
<line x1="296.00" y1="292.70" x2="302.00" y2="292.70" stroke="#000" stroke-width="1.3"/>
<line x1="296.00" y1="302.30" x2="302.00" y2="302.30" stroke="#000" stroke-width="1.3"/>
<rect x="315.30" y="283.60" width="3.20" height="3.20" fill="#111"/>
<rect x="315.30" y="297.20" width="3.20" height="3.20" fill="#111"/>
<rect x="313.10" y="313.10" width="3.20" height="3.20" fill="#111"/>
<rect x="317.50" y="310.70" width="3.20" height="3.20" fill="#111"/>
<line x1="310.70" y1="302.80" x2="323.10" y2="302.80" stroke="#000" stroke-width="1.3"/>
<line x1="316.90" y1="296.20" x2="316.90" y2="309.50" stroke="#000" stroke-width="1.3"/>
<line x1="313.90" y1="296.20" x2="319.90" y2="296.20" stroke="#000" stroke-width="1.3"/>
<line x1="313.90" y1="309.50" x2="319.90" y2="309.50" stroke="#000" stroke-width="1.3"/>
<path d="M334.80,295.50L336.60,298.74L333.00,298.74Z" fill="#111"/>
<path d="M333.20,303.20L335.00,306.44L331.40,306.44Z" fill="#111"/>
<path d="M336.40,304.20L338.20,307.44L334.60,307.44Z" fill="#111"/>
<path d="M334.80,310.00L336.60,313.24L333.00,313.24Z" fill="#111"/>
<line x1="328.60" y1="305.40" x2="341.00" y2="305.40" stroke="#000" stroke-width="1.3"/>
<line x1="334.80" y1="303.10" x2="334.80" y2="307.70" stroke="#000" stroke-width="1.3"/>
<line x1="331.80" y1="303.10" x2="337.80" y2="303.10" stroke="#000" stroke-width="1.3"/>
<line x1="331.80" y1="307.70" x2="337.80" y2="307.70" stroke="#000" stroke-width="1.3"/>
<path d="M349.20,339.30L351.00,336.06L347.40,336.06Z" fill="#111"/>
<path d="M351.70,339.60L353.50,336.36L349.90,336.36Z" fill="#111"/>
<path d="M354.20,339.80L356.00,336.56L352.40,336.56Z" fill="#111"/>
<path d="M356.70,339.80L358.50,336.56L354.90,336.56Z" fill="#111"/>
<line x1="346.50" y1="337.80" x2="358.90" y2="337.80" stroke="#000" stroke-width="1.3"/>
<line x1="352.70" y1="337.00" x2="352.70" y2="338.60" stroke="#000" stroke-width="1.3"/>
<line x1="349.70" y1="337.00" x2="355.70" y2="337.00" stroke="#000" stroke-width="1.3"/>
<line x1="349.70" y1="338.60" x2="355.70" y2="338.60" stroke="#000" stroke-width="1.3"/>
<path d="M370.40,299.00L372.20,300.80L370.40,302.60L368.60,300.80Z" fill="#111"/>
<path d="M367.90,308.20L369.70,310.00L367.90,311.80L366.10,310.00Z" fill="#111"/>
<path d="M372.90,309.20L374.70,311.00L372.90,312.80L371.10,311.00Z" fill="#111"/>
<path d="M370.40,312.20L372.20,314.00L370.40,315.80L368.60,314.00Z" fill="#111"/>
<line x1="364.20" y1="310.00" x2="376.60" y2="310.00" stroke="#000" stroke-width="1.3"/>
<line x1="370.40" y1="306.60" x2="370.40" y2="313.20" stroke="#000" stroke-width="1.3"/>
<line x1="367.40" y1="306.60" x2="373.40" y2="306.60" stroke="#000" stroke-width="1.3"/>
<line x1="367.40" y1="313.20" x2="373.40" y2="313.20" stroke="#000" stroke-width="1.3"/>
<circle cx="384.70" cy="334.30" r="1.55" fill="#fff" stroke="#000" stroke-width="1.05"/>
<circle cx="388.20" cy="336.80" r="1.55" fill="#fff" stroke="#000" stroke-width="1.05"/>
<circle cx="391.20" cy="337.30" r="1.55" fill="#fff" stroke="#000" stroke-width="1.05"/>
<circle cx="394.20" cy="337.50" r="1.55" fill="#fff" stroke="#000" stroke-width="1.05"/>
<line x1="382.00" y1="337.50" x2="394.40" y2="337.50" stroke="#000" stroke-width="1.3"/>
<line x1="388.20" y1="336.50" x2="388.20" y2="338.50" stroke="#000" stroke-width="1.3"/>
<line x1="385.20" y1="336.50" x2="391.20" y2="336.50" stroke="#000" stroke-width="1.3"/>
<line x1="385.20" y1="338.50" x2="391.20" y2="338.50" stroke="#000" stroke-width="1.3"/>
<line x1="299.80" y1="234.50" x2="393.30" y2="234.50" stroke="#000" stroke-width="1.7"/>
<line x1="299.80" y1="231.30" x2="299.80" y2="237.70" stroke="#000" stroke-width="1.7"/>
<line x1="393.30" y1="231.30" x2="393.30" y2="237.70" stroke="#000" stroke-width="1.7"/>
<text x="386.47" y="232.70" font-size="4.8" font-weight="bold" text-anchor="middle" letter-spacing="0.55">****</text>
<line x1="319.10" y1="244.50" x2="393.30" y2="244.50" stroke="#000" stroke-width="1.7"/>
<line x1="319.10" y1="241.30" x2="319.10" y2="247.70" stroke="#000" stroke-width="1.7"/>
<line x1="393.30" y1="241.30" x2="393.30" y2="247.70" stroke="#000" stroke-width="1.7"/>
<text x="386.47" y="242.70" font-size="4.8" font-weight="bold" text-anchor="middle" letter-spacing="0.55">****</text>
<line x1="299.80" y1="254.50" x2="355.00" y2="254.50" stroke="#000" stroke-width="1.7"/>
<line x1="299.80" y1="251.30" x2="299.80" y2="257.70" stroke="#000" stroke-width="1.7"/>
<line x1="355.00" y1="251.30" x2="355.00" y2="257.70" stroke="#000" stroke-width="1.7"/>
<text x="348.17" y="252.70" font-size="4.8" font-weight="bold" text-anchor="middle" letter-spacing="0.55">****</text>
<line x1="319.10" y1="265.00" x2="355.00" y2="265.00" stroke="#000" stroke-width="1.7"/>
<line x1="319.10" y1="261.80" x2="319.10" y2="268.20" stroke="#000" stroke-width="1.7"/>
<line x1="355.00" y1="261.80" x2="355.00" y2="268.20" stroke="#000" stroke-width="1.7"/>
<text x="348.17" y="263.20" font-size="4.8" font-weight="bold" text-anchor="middle" letter-spacing="0.55">****</text>
<line x1="299.80" y1="278.00" x2="320.00" y2="278.00" stroke="#000" stroke-width="1.7"/>
<line x1="299.80" y1="274.80" x2="299.80" y2="281.20" stroke="#000" stroke-width="1.7"/>
<line x1="320.00" y1="274.80" x2="320.00" y2="281.20" stroke="#000" stroke-width="1.7"/>
<text x="313.70" y="276.10" font-size="5.5" font-weight="bold" text-anchor="middle" >ns</text>
<line x1="335.80" y1="289.50" x2="355.00" y2="289.50" stroke="#000" stroke-width="1.7"/>
<line x1="335.80" y1="286.30" x2="335.80" y2="292.70" stroke="#000" stroke-width="1.7"/>
<line x1="355.00" y1="286.30" x2="355.00" y2="292.70" stroke="#000" stroke-width="1.7"/>
<text x="348.17" y="287.70" font-size="4.8" font-weight="bold" text-anchor="middle" letter-spacing="0.55">****</text>
<line x1="373.80" y1="292.00" x2="392.50" y2="292.00" stroke="#000" stroke-width="1.7"/>
<line x1="373.80" y1="288.80" x2="373.80" y2="295.20" stroke="#000" stroke-width="1.7"/>
<line x1="392.50" y1="288.80" x2="392.50" y2="295.20" stroke="#000" stroke-width="1.7"/>
<text x="385.67" y="290.20" font-size="4.8" font-weight="bold" text-anchor="middle" letter-spacing="0.55">***</text>
<text x="3.00" y="367.80" font-size="12.6" font-weight="bold" >D</text>
<text x="2.50" y="378.70" font-size="7.5" font-weight="bold" textLength="19.4" lengthAdjust="spacingAndGlyphs" >CD33</text>
<line x1="3.10" y1="389.00" x2="3.10" y2="485.60" stroke="#111" stroke-width="1.6"/>
<path d="M3.1,384.5 L0.3,390.8 L5.9,390.8 Z" fill="#111"/>
<line x1="2.30" y1="485.60" x2="514.50" y2="485.60" stroke="#111" stroke-width="1.6"/>
<path d="M520,485.6 L513.5,482.7 L513.5,488.5 Z" fill="#111"/>
<text x="259.50" y="498.90" font-size="7.7" font-weight="bold" textLength="19.75" lengthAdjust="spacingAndGlyphs" >CD45</text>
<svg x="13.4" y="408.0" width="68.90" height="67.69999999999999" viewBox="13.4 408.0 68.90 67.69999999999999" overflow="hidden">
<g transform="translate(0.00,0)">
<path d="M20.5,441 L21.5,431.5 C26,428 35,426.5 45,425.5 C53,424.5 60,421.5 68.5,419 L70,422 C68.5,428 66,436 63.5,442 C64.5,450 65.5,458 65.5,469 L60,469 L60,445 L40,440 Z" fill="#000" fill-opacity="0.68" filter="url(#spk)"/>
<path d="M21,467.8 L20.8,445 C20.8,441 21,439 21.5,438 C24,436.5 28,435.3 33,434 C38,432.8 44,431.3 50,430.3 C55,429.3 60,427 67.8,423.2 C66.5,426 65.5,429 64.2,431.5 C62.5,435 60.8,438.5 59.8,441.5 C59.2,444 59.5,446 60.5,449 C62,453 63.3,458 63.3,462 C63.3,465 62.5,467 61.5,468.2 L22,468.3 Z" fill="#141414" filter="url(#b04)"/>
<path d="M23.5,462.4 L23.4,446 C23.4,442.5 23.6,440.8 24.2,440 C27,438.6 31,437.3 36,436.2 C42,434.8 48,433.6 54,432.2 C58,431.2 61,429.8 64.5,427.2 C63,431 61,435 59.2,438.4 C58,440.8 57.3,442.5 56.8,444 L50.8,457.7 C49.5,453.5 47.5,450.5 45,448.8 C43,447.6 41,447.8 39.6,449 C38.8,450 38.6,451.5 38.6,453 L38.6,462.4 Z" fill="#e4e4e4"/>
<path d="M23.5,462.4 L23.4,446 C23.4,442.5 23.6,440.8 24.2,440 C27,438.6 31,437.3 36,436.2 C42,434.8 48,433.6 54,432.2 C58,431.2 61,429.8 64.5,427.2 C63,431 61,435 59.2,438.4 C58,440.8 57.3,442.5 56.8,444 L50.8,457.7 C49.5,453.5 47.5,450.5 45,448.8 C43,447.6 41,447.8 39.6,449 C38.8,450 38.6,451.5 38.6,453 L38.6,462.4 Z" fill="#000" fill-opacity="0.15" filter="url(#spk0)"/>
<path d="M40.5,447.8 C45,447 50.5,445.8 55.8,444.6 L50.6,456.8 C49.4,453.3 47.4,450.2 44.6,448.6 C43.2,447.9 41.8,447.7 40.5,447.8 Z" fill="#f6f6f6" stroke="none" stroke-width="1.0" />
<path d="M25.6,461 L25.5,446 C25.5,443.5 25.8,442.2 26.5,441.6 C30,440.2 34,439.2 38,438.3" fill="none" stroke="#777" stroke-width="0.6" />
<path d="M28,458 L28,446 C28,444 29,443 31,442.5" fill="none" stroke="#999" stroke-width="0.5" />
<path d="M39,450 C38.7,455 38.8,459 39,462" stroke="#fff" stroke-width="0.8" fill="none"/>
<path d="M44.6,439.6 C48,436.5 54,432.5 63,427.5 C61.5,431 59,435 56.5,438.5 C54.5,441.5 51.5,443.8 48,444 C46,444 44.8,441.5 44.6,439.6 Z" fill="#9a9a9a" stroke="#111" stroke-width="1.8" />
<ellipse cx="52.5" cy="439.0" rx="3.0" ry="1.6" fill="#c4c4c4" stroke="none" stroke-width="0" transform="rotate(-35 52.5 439.0)"/>
<path d="M41,452 C43,451 45,452.5 47,455 C48.5,457.5 49,460 48.5,462.5 L41,462.5 Z" fill="#fff" fill-opacity="0.28" filter="url(#wspk)"/>
<path d="M55,450 L59,447 C60,452 61,457 61,462 L56,463 Z" fill="#fff" fill-opacity="0.25" filter="url(#wspk)"/>
<ellipse cx="30.9" cy="464.6" rx="4.8" ry="0.9" fill="#e6e6e6" stroke="none" stroke-width="0" transform="rotate(0 30.9 464.6)"/>
<ellipse cx="51.5" cy="465.0" rx="3.2" ry="1.8" fill="#f4f4f4" stroke="none" stroke-width="0" transform="rotate(15 51.5 465.0)"/>
</g>
</svg>
<text x="44.40" y="399.80" font-size="7.6" font-weight="bold" text-anchor="middle" textLength="11.25" lengthAdjust="spacingAndGlyphs" >Ctrl</text>
<rect x="13.4" y="408.0" width="68.89999999999999" height="67.69999999999999" fill="none" stroke="#222" stroke-width="1"/>
<text x="11.20" y="415.00" font-size="4.2" font-weight="bold" text-anchor="end">10<tspan font-size="2.94" dy="-1.3">5</tspan></text>
<line x1="12.20" y1="413.60" x2="13.40" y2="413.60" stroke="#111" stroke-width="0.8"/>
<text x="11.20" y="428.40" font-size="4.2" font-weight="bold" text-anchor="end">10<tspan font-size="2.94" dy="-1.3">4</tspan></text>
<line x1="12.20" y1="427.00" x2="13.40" y2="427.00" stroke="#111" stroke-width="0.8"/>
<text x="11.20" y="443.20" font-size="4.2" font-weight="bold" text-anchor="end">10<tspan font-size="2.94" dy="-1.3">3</tspan></text>
<line x1="12.20" y1="441.80" x2="13.40" y2="441.80" stroke="#111" stroke-width="0.8"/>
<text x="10.40" y="462.00" font-size="4.2" font-weight="bold" text-anchor="end" >0</text>
<line x1="12.20" y1="460.50" x2="13.40" y2="460.50" stroke="#111" stroke-width="0.8"/>
<line x1="12.70" y1="416.00" x2="13.40" y2="416.00" stroke="#111" stroke-width="0.5"/>
<line x1="12.70" y1="418.00" x2="13.40" y2="418.00" stroke="#111" stroke-width="0.5"/>
<line x1="12.70" y1="420.00" x2="13.40" y2="420.00" stroke="#111" stroke-width="0.5"/>
<line x1="12.70" y1="422.00" x2="13.40" y2="422.00" stroke="#111" stroke-width="0.5"/>
<line x1="12.70" y1="430.00" x2="13.40" y2="430.00" stroke="#111" stroke-width="0.5"/>
<line x1="12.70" y1="432.00" x2="13.40" y2="432.00" stroke="#111" stroke-width="0.5"/>
<line x1="12.70" y1="434.00" x2="13.40" y2="434.00" stroke="#111" stroke-width="0.5"/>
<line x1="12.70" y1="436.00" x2="13.40" y2="436.00" stroke="#111" stroke-width="0.5"/>
<line x1="12.70" y1="445.00" x2="13.40" y2="445.00" stroke="#111" stroke-width="0.5"/>
<line x1="12.70" y1="448.00" x2="13.40" y2="448.00" stroke="#111" stroke-width="0.5"/>
<line x1="12.70" y1="451.00" x2="13.40" y2="451.00" stroke="#111" stroke-width="0.5"/>
<text x="50.10" y="483.40" font-size="4.2" font-weight="bold" text-anchor="middle">10<tspan font-size="2.94" dy="-1.3">3</tspan></text>
<text x="64.90" y="483.40" font-size="4.2" font-weight="bold" text-anchor="middle">10<tspan font-size="2.94" dy="-1.3">4</tspan></text>
<text x="78.60" y="483.40" font-size="4.2" font-weight="bold" text-anchor="middle">10<tspan font-size="2.94" dy="-1.3">5</tspan></text>
<text x="29.20" y="483.60" font-size="4.2" font-weight="bold" text-anchor="middle" >0</text>
<line x1="23.40" y1="475.70" x2="23.40" y2="476.90" stroke="#111" stroke-width="0.5"/>
<line x1="25.40" y1="475.70" x2="25.40" y2="476.90" stroke="#111" stroke-width="0.5"/>
<line x1="27.40" y1="475.70" x2="27.40" y2="476.90" stroke="#111" stroke-width="0.5"/>
<line x1="29.40" y1="475.70" x2="29.40" y2="476.90" stroke="#111" stroke-width="0.5"/>
<line x1="31.40" y1="475.70" x2="31.40" y2="476.90" stroke="#111" stroke-width="0.5"/>
<line x1="33.40" y1="475.70" x2="33.40" y2="476.90" stroke="#111" stroke-width="0.5"/>
<line x1="35.40" y1="475.70" x2="35.40" y2="476.90" stroke="#111" stroke-width="0.5"/>
<line x1="37.40" y1="475.70" x2="37.40" y2="476.90" stroke="#111" stroke-width="0.5"/>
<line x1="39.40" y1="475.70" x2="39.40" y2="476.90" stroke="#111" stroke-width="0.5"/>
<line x1="41.40" y1="475.70" x2="41.40" y2="476.90" stroke="#111" stroke-width="0.5"/>
<line x1="43.40" y1="475.70" x2="43.40" y2="476.90" stroke="#111" stroke-width="0.5"/>
<line x1="45.40" y1="475.70" x2="45.40" y2="476.90" stroke="#111" stroke-width="0.5"/>
<line x1="47.40" y1="475.70" x2="47.40" y2="476.90" stroke="#111" stroke-width="0.5"/>
<line x1="49.40" y1="475.70" x2="49.40" y2="476.90" stroke="#111" stroke-width="0.5"/>
<line x1="51.40" y1="475.70" x2="51.40" y2="476.90" stroke="#111" stroke-width="0.5"/>
<line x1="53.40" y1="475.70" x2="53.40" y2="476.90" stroke="#111" stroke-width="0.5"/>
<line x1="55.40" y1="475.70" x2="55.40" y2="476.90" stroke="#111" stroke-width="0.5"/>
<line x1="57.40" y1="475.70" x2="57.40" y2="476.90" stroke="#111" stroke-width="0.5"/>
<line x1="59.40" y1="475.70" x2="59.40" y2="476.90" stroke="#111" stroke-width="0.5"/>
<line x1="61.40" y1="475.70" x2="61.40" y2="476.90" stroke="#111" stroke-width="0.5"/>
<line x1="63.40" y1="475.70" x2="63.40" y2="476.90" stroke="#111" stroke-width="0.5"/>
<line x1="65.40" y1="475.70" x2="65.40" y2="476.90" stroke="#111" stroke-width="0.5"/>
<line x1="67.40" y1="475.70" x2="67.40" y2="476.90" stroke="#111" stroke-width="0.5"/>
<line x1="69.40" y1="475.70" x2="69.40" y2="476.90" stroke="#111" stroke-width="0.5"/>
<line x1="71.40" y1="475.70" x2="71.40" y2="476.90" stroke="#111" stroke-width="0.5"/>
<line x1="73.40" y1="475.70" x2="73.40" y2="476.90" stroke="#111" stroke-width="0.5"/>
<line x1="75.40" y1="475.70" x2="75.40" y2="476.90" stroke="#111" stroke-width="0.5"/>
<line x1="77.40" y1="475.70" x2="77.40" y2="476.90" stroke="#111" stroke-width="0.5"/>
<rect x="41.60" y="420.4" width="35.30" height="24.3" fill="none" stroke="#333" stroke-width="0.9"/>
<text x="78.60" y="418.90" font-size="6.0" font-weight="bold" text-anchor="end" >47.6</text>
<svg x="97.3" y="408.0" width="71.50" height="67.69999999999999" viewBox="97.3 408.0 71.50 67.69999999999999" overflow="hidden">
<g transform="translate(0.00,0)">
<path d="M104.5,441 L105.5,432 C109.5,428 117,426.5 126,427 C131,428 134,428 139,426.5 C146,424 151,421 156.5,420.5 L157,423 C155,430 151.5,438 150,445 C150.5,452 151,460 151.5,469 L146,469 L146,445 L125,437 Z" fill="#000" fill-opacity="0.74" filter="url(#spk)"/>
<path d="M126,448 C131,447.8 136,448 141,447 L146.5,446 C147.5,452 148.5,460 148.5,467 L126,467 Z" fill="#000" fill-opacity="0.56" filter="url(#spk)"/>
<path d="M106,466 L106,441 C106.3,439 107.5,437.5 109.5,436.8 C112,435.8 115,435.2 118.2,435 L126.2,435 C127,435.8 127.8,436.5 128.4,436.8 C130,436 132,434.5 134.3,433.1 C140,430 147,427 153.6,424.2 C152,428 150.5,432 148.8,436.5 C148,440 147.5,442.5 147.2,445 L141,446 C136,447 131,447 126,447.2 L125.8,466.3 Z" fill="#141414" filter="url(#b04)"/>
<path d="M108.5,461.5 L108.5,442 C108.7,440.5 109.5,439.5 111,439 C114,438 118,437.6 122,437.5 L125,437.6 L125,461.5 Z" fill="#e4e4e4"/>
<path d="M108.5,461.5 L108.5,442 C108.7,440.5 109.5,439.5 111,439 C114,438 118,437.6 122,437.5 L125,437.6 L125,461.5 Z" fill="#000" fill-opacity="0.15" filter="url(#spk0)"/>
<path d="M110.5,459 L110.5,443 C110.7,441.5 111.5,441 113,440.6" fill="none" stroke="#888" stroke-width="0.6" />
<path d="M126.5,437.8 C128,438.7 129,438.9 130,438.4 C133,436.6 137,434.6 141,432.6 C145,430.6 149,428.6 151.5,427.2 C150,431 148.5,435.5 147,439.5 L146.3,443.8 L140.8,443.8 C136,445 131,445.2 126.5,445.5 Z" fill="#d6d6d6"/>
<path d="M126.5,437.8 C128,438.7 129,438.9 130,438.4 C133,436.6 137,434.6 141,432.6 C145,430.6 149,428.6 151.5,427.2 C150,431 148.5,435.5 147,439.5 L146.3,443.8 L140.8,443.8 C136,445 131,445.2 126.5,445.5 Z" fill="#000" fill-opacity="0.15" filter="url(#spk0)"/>
<path d="M125.3,446.4 C131,446.2 136,446.4 139.5,445.6 C141,445 142,444.4 143,444.4 L147.3,444.8" fill="none" stroke="#fff" stroke-width="1.3" />
<path d="M125.6,438 L125.6,463" fill="none" stroke="#fff" stroke-width="0.8" />
<path d="M134.8,441.2 C137,437.5 143,432 149.6,428 C148.5,432 146.5,436.5 143.8,439.5 C141.5,442 138,443 136.5,442.8 C135.5,442.6 134.8,442 134.8,441.2 Z" fill="#8e8e8e" stroke="#111" stroke-width="1.6" />
<ellipse cx="113.8" cy="463.7" rx="5.2" ry="1.0" fill="#e6e6e6" stroke="none" stroke-width="0" transform="rotate(0 113.8 463.7)"/>
</g>
</svg>
<text x="129.40" y="399.80" font-size="7.6" font-weight="bold" text-anchor="middle" textLength="33.75" lengthAdjust="spacingAndGlyphs" >Dasa 200</text>
<rect x="97.3" y="408.0" width="71.50000000000001" height="67.69999999999999" fill="none" stroke="#222" stroke-width="1"/>
<text x="95.10" y="415.00" font-size="4.2" font-weight="bold" text-anchor="end">10<tspan font-size="2.94" dy="-1.3">5</tspan></text>
<line x1="96.10" y1="413.60" x2="97.30" y2="413.60" stroke="#111" stroke-width="0.8"/>
<text x="95.10" y="428.40" font-size="4.2" font-weight="bold" text-anchor="end">10<tspan font-size="2.94" dy="-1.3">4</tspan></text>
<line x1="96.10" y1="427.00" x2="97.30" y2="427.00" stroke="#111" stroke-width="0.8"/>
<text x="95.10" y="443.20" font-size="4.2" font-weight="bold" text-anchor="end">10<tspan font-size="2.94" dy="-1.3">3</tspan></text>
<line x1="96.10" y1="441.80" x2="97.30" y2="441.80" stroke="#111" stroke-width="0.8"/>
<text x="94.30" y="462.00" font-size="4.2" font-weight="bold" text-anchor="end" >0</text>
<line x1="96.10" y1="460.50" x2="97.30" y2="460.50" stroke="#111" stroke-width="0.8"/>
<line x1="96.60" y1="416.00" x2="97.30" y2="416.00" stroke="#111" stroke-width="0.5"/>
<line x1="96.60" y1="418.00" x2="97.30" y2="418.00" stroke="#111" stroke-width="0.5"/>
<line x1="96.60" y1="420.00" x2="97.30" y2="420.00" stroke="#111" stroke-width="0.5"/>
<line x1="96.60" y1="422.00" x2="97.30" y2="422.00" stroke="#111" stroke-width="0.5"/>
<line x1="96.60" y1="430.00" x2="97.30" y2="430.00" stroke="#111" stroke-width="0.5"/>
<line x1="96.60" y1="432.00" x2="97.30" y2="432.00" stroke="#111" stroke-width="0.5"/>
<line x1="96.60" y1="434.00" x2="97.30" y2="434.00" stroke="#111" stroke-width="0.5"/>
<line x1="96.60" y1="436.00" x2="97.30" y2="436.00" stroke="#111" stroke-width="0.5"/>
<line x1="96.60" y1="445.00" x2="97.30" y2="445.00" stroke="#111" stroke-width="0.5"/>
<line x1="96.60" y1="448.00" x2="97.30" y2="448.00" stroke="#111" stroke-width="0.5"/>
<line x1="96.60" y1="451.00" x2="97.30" y2="451.00" stroke="#111" stroke-width="0.5"/>
<text x="134.00" y="483.40" font-size="4.2" font-weight="bold" text-anchor="middle">10<tspan font-size="2.94" dy="-1.3">3</tspan></text>
<text x="148.80" y="483.40" font-size="4.2" font-weight="bold" text-anchor="middle">10<tspan font-size="2.94" dy="-1.3">4</tspan></text>
<text x="162.50" y="483.40" font-size="4.2" font-weight="bold" text-anchor="middle">10<tspan font-size="2.94" dy="-1.3">5</tspan></text>
<text x="113.10" y="483.60" font-size="4.2" font-weight="bold" text-anchor="middle" >0</text>
<line x1="107.30" y1="475.70" x2="107.30" y2="476.90" stroke="#111" stroke-width="0.5"/>
<line x1="109.30" y1="475.70" x2="109.30" y2="476.90" stroke="#111" stroke-width="0.5"/>
<line x1="111.30" y1="475.70" x2="111.30" y2="476.90" stroke="#111" stroke-width="0.5"/>
<line x1="113.30" y1="475.70" x2="113.30" y2="476.90" stroke="#111" stroke-width="0.5"/>
<line x1="115.30" y1="475.70" x2="115.30" y2="476.90" stroke="#111" stroke-width="0.5"/>
<line x1="117.30" y1="475.70" x2="117.30" y2="476.90" stroke="#111" stroke-width="0.5"/>
<line x1="119.30" y1="475.70" x2="119.30" y2="476.90" stroke="#111" stroke-width="0.5"/>
<line x1="121.30" y1="475.70" x2="121.30" y2="476.90" stroke="#111" stroke-width="0.5"/>
<line x1="123.30" y1="475.70" x2="123.30" y2="476.90" stroke="#111" stroke-width="0.5"/>
<line x1="125.30" y1="475.70" x2="125.30" y2="476.90" stroke="#111" stroke-width="0.5"/>
<line x1="127.30" y1="475.70" x2="127.30" y2="476.90" stroke="#111" stroke-width="0.5"/>
<line x1="129.30" y1="475.70" x2="129.30" y2="476.90" stroke="#111" stroke-width="0.5"/>
<line x1="131.30" y1="475.70" x2="131.30" y2="476.90" stroke="#111" stroke-width="0.5"/>
<line x1="133.30" y1="475.70" x2="133.30" y2="476.90" stroke="#111" stroke-width="0.5"/>
<line x1="135.30" y1="475.70" x2="135.30" y2="476.90" stroke="#111" stroke-width="0.5"/>
<line x1="137.30" y1="475.70" x2="137.30" y2="476.90" stroke="#111" stroke-width="0.5"/>
<line x1="139.30" y1="475.70" x2="139.30" y2="476.90" stroke="#111" stroke-width="0.5"/>
<line x1="141.30" y1="475.70" x2="141.30" y2="476.90" stroke="#111" stroke-width="0.5"/>
<line x1="143.30" y1="475.70" x2="143.30" y2="476.90" stroke="#111" stroke-width="0.5"/>
<line x1="145.30" y1="475.70" x2="145.30" y2="476.90" stroke="#111" stroke-width="0.5"/>
<line x1="147.30" y1="475.70" x2="147.30" y2="476.90" stroke="#111" stroke-width="0.5"/>
<line x1="149.30" y1="475.70" x2="149.30" y2="476.90" stroke="#111" stroke-width="0.5"/>
<line x1="151.30" y1="475.70" x2="151.30" y2="476.90" stroke="#111" stroke-width="0.5"/>
<line x1="153.30" y1="475.70" x2="153.30" y2="476.90" stroke="#111" stroke-width="0.5"/>
<line x1="155.30" y1="475.70" x2="155.30" y2="476.90" stroke="#111" stroke-width="0.5"/>
<line x1="157.30" y1="475.70" x2="157.30" y2="476.90" stroke="#111" stroke-width="0.5"/>
<line x1="159.30" y1="475.70" x2="159.30" y2="476.90" stroke="#111" stroke-width="0.5"/>
<line x1="161.30" y1="475.70" x2="161.30" y2="476.90" stroke="#111" stroke-width="0.5"/>
<rect x="126.40" y="420.4" width="36.80" height="24.3" fill="none" stroke="#333" stroke-width="0.9"/>
<text x="164.90" y="418.90" font-size="6.0" font-weight="bold" text-anchor="end" >32.3</text>
<svg x="183.5" y="408.0" width="69.10" height="67.69999999999999" viewBox="183.5 408.0 69.10 67.69999999999999" overflow="hidden">
<g transform="translate(0.00,0)">
<path d="M189.5,441 L190.5,432.5 C194.5,429 203,428 212,427.5 C220,426.5 228,423 238.5,419 L239,422 C237,429 234.5,437 233.5,445 L233,466 L229,466 L229,445 L210,438 Z" fill="#000" fill-opacity="0.64" filter="url(#spk)"/>
<path d="M191.5,466 L191.5,441 C191.6,439.5 192.5,437.5 193.8,436.6 C196,435.5 199,435 203.2,434.7 C206,434.3 209,434 211.8,433.6 C214,433.2 216.5,432.7 219.3,432 C225,429.5 230,426.5 236.5,423.5 C235.3,427 234,430 233.3,433.1 C232.5,437 232,441 231.7,444.9 L231.2,464.3 L230.5,467 L191.5,467 Z" fill="#141414" filter="url(#b04)"/>
<path d="M194,461.8 L194,441.5 C194.2,440 195,439 196.5,438.3 C200,437.3 205,436.8 211,436.2 C216,435.6 221,434.3 225.5,432.5 C229,431 231.5,429.5 233.8,428 C232,432.5 230.6,438 229.8,443.5 L229.5,445.5 C228.6,445.2 227.9,445.5 227.4,446.3 L222,453.6 L215.8,446.2 C215,445.5 214,445.6 213,446.6 C212,447.8 211.4,449.5 211.2,451 L211,461.8 Z" fill="#e4e4e4"/>
<path d="M194,461.8 L194,441.5 C194.2,440 195,439 196.5,438.3 C200,437.3 205,436.8 211,436.2 C216,435.6 221,434.3 225.5,432.5 C229,431 231.5,429.5 233.8,428 C232,432.5 230.6,438 229.8,443.5 L229.5,445.5 C228.6,445.2 227.9,445.5 227.4,446.3 L222,453.6 L215.8,446.2 C215,445.5 214,445.6 213,446.6 C212,447.8 211.4,449.5 211.2,451 L211,461.8 Z" fill="#000" fill-opacity="0.15" filter="url(#spk0)"/>
<path d="M211.2,450.5 C211.8,448 213,446.5 215.5,445.8 L222,452.8 L227.4,445.8 L230,445" fill="none" stroke="#fff" stroke-width="1.4" />
<path d="M196,459.5 L196,442.5 C196.3,441 197,440.3 198.5,439.8 C202,439 206,438.7 210,438.4" fill="none" stroke="#888" stroke-width="0.6" />
<path d="M219.5,441.5 C219,437 224,432.5 233.5,428.5 C230,432 226.5,435.5 224.5,438.5 C223,440.5 221,442.5 219.5,441.5 Z" fill="#c8c8c8" stroke="#111" stroke-width="1.8" />
<path d="M213,452 C215,448 217,449 219,452 L222,456 L226,450 C228,448 229.5,449 229.5,452 L229.5,463 L213,463 Z" fill="#fff" fill-opacity="0.3" filter="url(#wspk)"/>
<ellipse cx="200.5" cy="463.5" rx="6.5" ry="1.0" fill="#e6e6e6" stroke="none" stroke-width="0" transform="rotate(0 200.5 463.5)"/>
<ellipse cx="221.8" cy="464.1" rx="3.5" ry="1.8" fill="#f4f4f4" stroke="none" stroke-width="0" transform="rotate(8 221.8 464.1)"/>
</g>
</svg>
<text x="214.40" y="399.80" font-size="7.6" font-weight="bold" text-anchor="middle" textLength="17.75" lengthAdjust="spacingAndGlyphs" >DNR</text>
<rect x="183.5" y="408.0" width="69.1" height="67.69999999999999" fill="none" stroke="#222" stroke-width="1"/>
<text x="181.30" y="415.00" font-size="4.2" font-weight="bold" text-anchor="end">10<tspan font-size="2.94" dy="-1.3">5</tspan></text>
<line x1="182.30" y1="413.60" x2="183.50" y2="413.60" stroke="#111" stroke-width="0.8"/>
<text x="181.30" y="428.40" font-size="4.2" font-weight="bold" text-anchor="end">10<tspan font-size="2.94" dy="-1.3">4</tspan></text>
<line x1="182.30" y1="427.00" x2="183.50" y2="427.00" stroke="#111" stroke-width="0.8"/>
<text x="181.30" y="443.20" font-size="4.2" font-weight="bold" text-anchor="end">10<tspan font-size="2.94" dy="-1.3">3</tspan></text>
<line x1="182.30" y1="441.80" x2="183.50" y2="441.80" stroke="#111" stroke-width="0.8"/>
<text x="180.50" y="462.00" font-size="4.2" font-weight="bold" text-anchor="end" >0</text>
<line x1="182.30" y1="460.50" x2="183.50" y2="460.50" stroke="#111" stroke-width="0.8"/>
<line x1="182.80" y1="416.00" x2="183.50" y2="416.00" stroke="#111" stroke-width="0.5"/>
<line x1="182.80" y1="418.00" x2="183.50" y2="418.00" stroke="#111" stroke-width="0.5"/>
<line x1="182.80" y1="420.00" x2="183.50" y2="420.00" stroke="#111" stroke-width="0.5"/>
<line x1="182.80" y1="422.00" x2="183.50" y2="422.00" stroke="#111" stroke-width="0.5"/>
<line x1="182.80" y1="430.00" x2="183.50" y2="430.00" stroke="#111" stroke-width="0.5"/>
<line x1="182.80" y1="432.00" x2="183.50" y2="432.00" stroke="#111" stroke-width="0.5"/>
<line x1="182.80" y1="434.00" x2="183.50" y2="434.00" stroke="#111" stroke-width="0.5"/>
<line x1="182.80" y1="436.00" x2="183.50" y2="436.00" stroke="#111" stroke-width="0.5"/>
<line x1="182.80" y1="445.00" x2="183.50" y2="445.00" stroke="#111" stroke-width="0.5"/>
<line x1="182.80" y1="448.00" x2="183.50" y2="448.00" stroke="#111" stroke-width="0.5"/>
<line x1="182.80" y1="451.00" x2="183.50" y2="451.00" stroke="#111" stroke-width="0.5"/>
<text x="220.20" y="483.40" font-size="4.2" font-weight="bold" text-anchor="middle">10<tspan font-size="2.94" dy="-1.3">3</tspan></text>
<text x="235.00" y="483.40" font-size="4.2" font-weight="bold" text-anchor="middle">10<tspan font-size="2.94" dy="-1.3">4</tspan></text>
<text x="248.70" y="483.40" font-size="4.2" font-weight="bold" text-anchor="middle">10<tspan font-size="2.94" dy="-1.3">5</tspan></text>
<text x="199.30" y="483.60" font-size="4.2" font-weight="bold" text-anchor="middle" >0</text>
<line x1="193.50" y1="475.70" x2="193.50" y2="476.90" stroke="#111" stroke-width="0.5"/>
<line x1="195.50" y1="475.70" x2="195.50" y2="476.90" stroke="#111" stroke-width="0.5"/>
<line x1="197.50" y1="475.70" x2="197.50" y2="476.90" stroke="#111" stroke-width="0.5"/>
<line x1="199.50" y1="475.70" x2="199.50" y2="476.90" stroke="#111" stroke-width="0.5"/>
<line x1="201.50" y1="475.70" x2="201.50" y2="476.90" stroke="#111" stroke-width="0.5"/>
<line x1="203.50" y1="475.70" x2="203.50" y2="476.90" stroke="#111" stroke-width="0.5"/>
<line x1="205.50" y1="475.70" x2="205.50" y2="476.90" stroke="#111" stroke-width="0.5"/>
<line x1="207.50" y1="475.70" x2="207.50" y2="476.90" stroke="#111" stroke-width="0.5"/>
<line x1="209.50" y1="475.70" x2="209.50" y2="476.90" stroke="#111" stroke-width="0.5"/>
<line x1="211.50" y1="475.70" x2="211.50" y2="476.90" stroke="#111" stroke-width="0.5"/>
<line x1="213.50" y1="475.70" x2="213.50" y2="476.90" stroke="#111" stroke-width="0.5"/>
<line x1="215.50" y1="475.70" x2="215.50" y2="476.90" stroke="#111" stroke-width="0.5"/>
<line x1="217.50" y1="475.70" x2="217.50" y2="476.90" stroke="#111" stroke-width="0.5"/>
<line x1="219.50" y1="475.70" x2="219.50" y2="476.90" stroke="#111" stroke-width="0.5"/>
<line x1="221.50" y1="475.70" x2="221.50" y2="476.90" stroke="#111" stroke-width="0.5"/>
<line x1="223.50" y1="475.70" x2="223.50" y2="476.90" stroke="#111" stroke-width="0.5"/>
<line x1="225.50" y1="475.70" x2="225.50" y2="476.90" stroke="#111" stroke-width="0.5"/>
<line x1="227.50" y1="475.70" x2="227.50" y2="476.90" stroke="#111" stroke-width="0.5"/>
<line x1="229.50" y1="475.70" x2="229.50" y2="476.90" stroke="#111" stroke-width="0.5"/>
<line x1="231.50" y1="475.70" x2="231.50" y2="476.90" stroke="#111" stroke-width="0.5"/>
<line x1="233.50" y1="475.70" x2="233.50" y2="476.90" stroke="#111" stroke-width="0.5"/>
<line x1="235.50" y1="475.70" x2="235.50" y2="476.90" stroke="#111" stroke-width="0.5"/>
<line x1="237.50" y1="475.70" x2="237.50" y2="476.90" stroke="#111" stroke-width="0.5"/>
<line x1="239.50" y1="475.70" x2="239.50" y2="476.90" stroke="#111" stroke-width="0.5"/>
<line x1="241.50" y1="475.70" x2="241.50" y2="476.90" stroke="#111" stroke-width="0.5"/>
<line x1="243.50" y1="475.70" x2="243.50" y2="476.90" stroke="#111" stroke-width="0.5"/>
<line x1="245.50" y1="475.70" x2="245.50" y2="476.90" stroke="#111" stroke-width="0.5"/>
<line x1="247.50" y1="475.70" x2="247.50" y2="476.90" stroke="#111" stroke-width="0.5"/>
<rect x="211.50" y="420.4" width="35.60" height="24.3" fill="none" stroke="#333" stroke-width="0.9"/>
<text x="248.80" y="418.90" font-size="6.0" font-weight="bold" text-anchor="end" >31.9</text>
<svg x="267.5" y="408.0" width="69.00" height="67.69999999999999" viewBox="267.5 408.0 69.00 67.69999999999999" overflow="hidden">
<g transform="translate(0.00,0)">
<path d="M274,441 L274.5,433.5 C278,430 286,429 293,429.5 C297,430 298.5,433 298.5,437 L298,466 L294,466 L294,440 Z" fill="#000" fill-opacity="0.61" filter="url(#spk)"/>
<path d="M297,441 C303,441.5 309,443 314,447 C315,454 314,461 311,468 L297,468 Z" fill="#000" fill-opacity="0.34" filter="url(#spk)"/>
<path d="M300,445 C299,440 303,434.5 310,430.5 C314.5,427.5 318.5,426 320.5,426.5 C319.5,432 315,439 309,443.5 C305.5,446 301.5,446.8 300,445 Z" fill="#000" fill-opacity="0.68" filter="url(#spk)"/>
<path d="M275.8,466 L275.6,438 C275.6,436.3 276.5,435 278,434.3 C282,433.3 288,433 294.7,433.1 C295.6,433.3 296,434 296.1,435 L296.3,444.9 L295.8,463.2 C295.7,465 295,466 293.5,466.2 Z" fill="#141414" filter="url(#b04)"/>
<path d="M278.2,461.8 L278.1,439.5 C278.2,437.8 279,437 280.5,436.6 C284,436 289,435.8 293.5,436 L293.8,461.8 Z" fill="#e0e0e0"/>
<path d="M278.2,461.8 L278.1,439.5 C278.2,437.8 279,437 280.5,436.6 C284,436 289,435.8 293.5,436 L293.8,461.8 Z" fill="#000" fill-opacity="0.17" filter="url(#spk0)"/>
<path d="M280,460 L280,440.5 C280.2,439.3 281,438.6 282.3,438.4 C285,438 289,437.9 292,438.1 L292,460" fill="none" stroke="#666" stroke-width="0.7" />
<path d="M282,457 L282,442 C282.2,441 283,440.4 284.2,440.3 C286.5,440 289,440 290.5,440.2 L290.4,457" fill="none" stroke="#999" stroke-width="0.6" />
<ellipse cx="285.8" cy="463.8" rx="6.2" ry="1.0" fill="#e6e6e6" stroke="none" stroke-width="0" transform="rotate(0 285.8 463.8)"/>
<path d="M304.2,440.3 C302.6,438.6 303.4,435.8 305.8,433.6 C308.8,431 313.5,428.3 318.8,426.5 C317.2,429.8 315,433.5 312.2,436.6 C309.6,439.4 306,441.8 304.2,440.3 Z" fill="#e8e8e8" stroke="#111" stroke-width="1.7" />
</g>
</svg>
<text x="298.40" y="399.80" font-size="7.6" font-weight="bold" text-anchor="middle" textLength="44.25" lengthAdjust="spacingAndGlyphs" >Dasa + DNR</text>
<rect x="267.5" y="408.0" width="69.0" height="67.69999999999999" fill="none" stroke="#222" stroke-width="1"/>
<text x="265.30" y="415.00" font-size="4.2" font-weight="bold" text-anchor="end">10<tspan font-size="2.94" dy="-1.3">5</tspan></text>
<line x1="266.30" y1="413.60" x2="267.50" y2="413.60" stroke="#111" stroke-width="0.8"/>
<text x="265.30" y="428.40" font-size="4.2" font-weight="bold" text-anchor="end">10<tspan font-size="2.94" dy="-1.3">4</tspan></text>
<line x1="266.30" y1="427.00" x2="267.50" y2="427.00" stroke="#111" stroke-width="0.8"/>
<text x="265.30" y="443.20" font-size="4.2" font-weight="bold" text-anchor="end">10<tspan font-size="2.94" dy="-1.3">3</tspan></text>
<line x1="266.30" y1="441.80" x2="267.50" y2="441.80" stroke="#111" stroke-width="0.8"/>
<text x="264.50" y="462.00" font-size="4.2" font-weight="bold" text-anchor="end" >0</text>
<line x1="266.30" y1="460.50" x2="267.50" y2="460.50" stroke="#111" stroke-width="0.8"/>
<line x1="266.80" y1="416.00" x2="267.50" y2="416.00" stroke="#111" stroke-width="0.5"/>
<line x1="266.80" y1="418.00" x2="267.50" y2="418.00" stroke="#111" stroke-width="0.5"/>
<line x1="266.80" y1="420.00" x2="267.50" y2="420.00" stroke="#111" stroke-width="0.5"/>
<line x1="266.80" y1="422.00" x2="267.50" y2="422.00" stroke="#111" stroke-width="0.5"/>
<line x1="266.80" y1="430.00" x2="267.50" y2="430.00" stroke="#111" stroke-width="0.5"/>
<line x1="266.80" y1="432.00" x2="267.50" y2="432.00" stroke="#111" stroke-width="0.5"/>
<line x1="266.80" y1="434.00" x2="267.50" y2="434.00" stroke="#111" stroke-width="0.5"/>
<line x1="266.80" y1="436.00" x2="267.50" y2="436.00" stroke="#111" stroke-width="0.5"/>
<line x1="266.80" y1="445.00" x2="267.50" y2="445.00" stroke="#111" stroke-width="0.5"/>
<line x1="266.80" y1="448.00" x2="267.50" y2="448.00" stroke="#111" stroke-width="0.5"/>
<line x1="266.80" y1="451.00" x2="267.50" y2="451.00" stroke="#111" stroke-width="0.5"/>
<text x="304.20" y="483.40" font-size="4.2" font-weight="bold" text-anchor="middle">10<tspan font-size="2.94" dy="-1.3">3</tspan></text>
<text x="319.00" y="483.40" font-size="4.2" font-weight="bold" text-anchor="middle">10<tspan font-size="2.94" dy="-1.3">4</tspan></text>
<text x="332.70" y="483.40" font-size="4.2" font-weight="bold" text-anchor="middle">10<tspan font-size="2.94" dy="-1.3">5</tspan></text>
<text x="283.30" y="483.60" font-size="4.2" font-weight="bold" text-anchor="middle" >0</text>
<line x1="277.50" y1="475.70" x2="277.50" y2="476.90" stroke="#111" stroke-width="0.5"/>
<line x1="279.50" y1="475.70" x2="279.50" y2="476.90" stroke="#111" stroke-width="0.5"/>
<line x1="281.50" y1="475.70" x2="281.50" y2="476.90" stroke="#111" stroke-width="0.5"/>
<line x1="283.50" y1="475.70" x2="283.50" y2="476.90" stroke="#111" stroke-width="0.5"/>
<line x1="285.50" y1="475.70" x2="285.50" y2="476.90" stroke="#111" stroke-width="0.5"/>
<line x1="287.50" y1="475.70" x2="287.50" y2="476.90" stroke="#111" stroke-width="0.5"/>
<line x1="289.50" y1="475.70" x2="289.50" y2="476.90" stroke="#111" stroke-width="0.5"/>
<line x1="291.50" y1="475.70" x2="291.50" y2="476.90" stroke="#111" stroke-width="0.5"/>
<line x1="293.50" y1="475.70" x2="293.50" y2="476.90" stroke="#111" stroke-width="0.5"/>
<line x1="295.50" y1="475.70" x2="295.50" y2="476.90" stroke="#111" stroke-width="0.5"/>
<line x1="297.50" y1="475.70" x2="297.50" y2="476.90" stroke="#111" stroke-width="0.5"/>
<line x1="299.50" y1="475.70" x2="299.50" y2="476.90" stroke="#111" stroke-width="0.5"/>
<line x1="301.50" y1="475.70" x2="301.50" y2="476.90" stroke="#111" stroke-width="0.5"/>
<line x1="303.50" y1="475.70" x2="303.50" y2="476.90" stroke="#111" stroke-width="0.5"/>
<line x1="305.50" y1="475.70" x2="305.50" y2="476.90" stroke="#111" stroke-width="0.5"/>
<line x1="307.50" y1="475.70" x2="307.50" y2="476.90" stroke="#111" stroke-width="0.5"/>
<line x1="309.50" y1="475.70" x2="309.50" y2="476.90" stroke="#111" stroke-width="0.5"/>
<line x1="311.50" y1="475.70" x2="311.50" y2="476.90" stroke="#111" stroke-width="0.5"/>
<line x1="313.50" y1="475.70" x2="313.50" y2="476.90" stroke="#111" stroke-width="0.5"/>
<line x1="315.50" y1="475.70" x2="315.50" y2="476.90" stroke="#111" stroke-width="0.5"/>
<line x1="317.50" y1="475.70" x2="317.50" y2="476.90" stroke="#111" stroke-width="0.5"/>
<line x1="319.50" y1="475.70" x2="319.50" y2="476.90" stroke="#111" stroke-width="0.5"/>
<line x1="321.50" y1="475.70" x2="321.50" y2="476.90" stroke="#111" stroke-width="0.5"/>
<line x1="323.50" y1="475.70" x2="323.50" y2="476.90" stroke="#111" stroke-width="0.5"/>
<line x1="325.50" y1="475.70" x2="325.50" y2="476.90" stroke="#111" stroke-width="0.5"/>
<line x1="327.50" y1="475.70" x2="327.50" y2="476.90" stroke="#111" stroke-width="0.5"/>
<line x1="329.50" y1="475.70" x2="329.50" y2="476.90" stroke="#111" stroke-width="0.5"/>
<line x1="331.50" y1="475.70" x2="331.50" y2="476.90" stroke="#111" stroke-width="0.5"/>
<rect x="295.50" y="420.4" width="35.60" height="24.3" fill="none" stroke="#333" stroke-width="0.9"/>
<text x="332.80" y="418.90" font-size="6.0" font-weight="bold" text-anchor="end" >6.2</text>
<svg x="351.8" y="408.0" width="69.10" height="67.69999999999999" viewBox="351.8 408.0 69.10 67.69999999999999" overflow="hidden">
<g transform="translate(0.00,0)">
<path d="M357.5,441 L358.5,431 C362.5,427.5 371,427 379,428 C386,428 392,424.5 406,419 L407.5,422 C406,429 403.5,437 402,445 C401,452 401,460 401.5,469 L396,469 L396,445 L375,438 Z" fill="#000" fill-opacity="0.68" filter="url(#spk)"/>
<path d="M359.6,466 L359.6,438.5 C359.8,436.5 361,434.5 363.6,433.4 C366,432.5 368.5,432.1 371.2,432 C374,432 376.5,432.4 379.2,433.1 L379,462.7 L378.5,466.3 Z" fill="#141414" filter="url(#b04)"/>
<path d="M362,462 L362,439 C362.2,437.5 363,436.4 364.5,435.8 C367,435 370,434.8 373,434.8 L376.8,435.4 L376.8,462 Z" fill="#e0e0e0"/>
<path d="M362,462 L362,439 C362.2,437.5 363,436.4 364.5,435.8 C367,435 370,434.8 373,434.8 L376.8,435.4 L376.8,462 Z" fill="#000" fill-opacity="0.16" filter="url(#spk0)"/>
<path d="M364,460 L364,440 C364.2,438.8 365,438 366.5,437.6 C369,437 372,437 375,437.3" fill="none" stroke="#777" stroke-width="0.6" />
<ellipse cx="369.5" cy="445.5" rx="3.5" ry="4.5" fill="none" stroke="#888" stroke-width="0.6" transform="rotate(0 369.5 445.5)"/>
<ellipse cx="368.5" cy="464.0" rx="6.0" ry="1.0" fill="#e6e6e6" stroke="none" stroke-width="0" transform="rotate(0 368.5 464.0)"/>
<path d="M378.8,433.3 C380,434 381,434.6 381.9,434.7 C384,433.8 385.5,432.8 387.3,432 C390,430.8 393,429.8 395.9,428.8 C399,427.2 402,425.5 405.5,423.6 C404.5,427 403.5,430 402.4,433.1 C401.5,437 400.8,441 400.2,444.9 C399.5,448 398.6,451 398.1,453.5 C398.2,457.5 398.5,461.5 398.6,465.4 L397.5,467 L379.5,467 Z" fill="#141414" filter="url(#b04)"/>
<path d="M380.5,436.5 C382,437 383.5,437 385,436.2 C389,434.3 394,432 399,429.5 L402.5,427.5 C401,432 399.5,438 398.3,444 C397.5,448 396.3,451.5 395.8,454 L396,461.5 L389.5,461.5 C389.3,458 389.2,455 389.1,452 C389,446 387,442 384,441.3 C382,441 380.8,442 380.3,443.5 Z" fill="#dcdcdc"/>
<path d="M380.5,436.5 C382,437 383.5,437 385,436.2 C389,434.3 394,432 399,429.5 L402.5,427.5 C401,432 399.5,438 398.3,444 C397.5,448 396.3,451.5 395.8,454 L396,461.5 L389.5,461.5 C389.3,458 389.2,455 389.1,452 C389,446 387,442 384,441.3 C382,441 380.8,442 380.3,443.5 Z" fill="#000" fill-opacity="0.12" filter="url(#spk0)"/>
<path d="M387,440 C390,435 396,431 402,427.5 C400,432.5 397,438 394,441 C391.5,443 388,442.5 387,440 Z" fill="none" stroke="#555" stroke-width="0.9" />
<path d="M385.5,434.5 C387.5,435.5 389.5,437 390.8,438.5" fill="none" stroke="#222" stroke-width="1.1" />
<path d="M383.5,441.8 C386.5,442 388.8,447 388.9,453 C389,458 387.5,463 384,463.5 C381,463.5 379.2,459 379.2,453 C379.2,447 380.5,441.8 383.5,441.8 Z" fill="#262626" filter="url(#b04)"/>
<path d="M383.5,445 C385.5,445 387.3,450 387.3,454 C387.3,458 385.5,461.5 383.8,461.5 C382,461.5 380.7,458 380.7,454 C380.7,450 382,445 383.5,445 Z" fill="#fff" fill-opacity="0.5" filter="url(#wspk)"/>
<path d="M389.2,462.8 C390,463.5 392,463.5 396.5,462.8" fill="none" stroke="#fff" stroke-width="0.8" />
<path d="M384.5,465.5 L390.5,462.2 L397,465.3 L391,467.8 Z" fill="#1a1a1a"/>
</g>
</svg>
<text x="381.90" y="399.80" font-size="7.6" font-weight="bold" text-anchor="middle" textLength="21.25" lengthAdjust="spacingAndGlyphs" >Ara-C</text>
<rect x="351.8" y="408.0" width="69.09999999999997" height="67.69999999999999" fill="none" stroke="#222" stroke-width="1"/>
<text x="349.60" y="415.00" font-size="4.2" font-weight="bold" text-anchor="end">10<tspan font-size="2.94" dy="-1.3">5</tspan></text>
<line x1="350.60" y1="413.60" x2="351.80" y2="413.60" stroke="#111" stroke-width="0.8"/>
<text x="349.60" y="428.40" font-size="4.2" font-weight="bold" text-anchor="end">10<tspan font-size="2.94" dy="-1.3">4</tspan></text>
<line x1="350.60" y1="427.00" x2="351.80" y2="427.00" stroke="#111" stroke-width="0.8"/>
<text x="349.60" y="443.20" font-size="4.2" font-weight="bold" text-anchor="end">10<tspan font-size="2.94" dy="-1.3">3</tspan></text>
<line x1="350.60" y1="441.80" x2="351.80" y2="441.80" stroke="#111" stroke-width="0.8"/>
<text x="348.80" y="462.00" font-size="4.2" font-weight="bold" text-anchor="end" >0</text>
<line x1="350.60" y1="460.50" x2="351.80" y2="460.50" stroke="#111" stroke-width="0.8"/>
<line x1="351.10" y1="416.00" x2="351.80" y2="416.00" stroke="#111" stroke-width="0.5"/>
<line x1="351.10" y1="418.00" x2="351.80" y2="418.00" stroke="#111" stroke-width="0.5"/>
<line x1="351.10" y1="420.00" x2="351.80" y2="420.00" stroke="#111" stroke-width="0.5"/>
<line x1="351.10" y1="422.00" x2="351.80" y2="422.00" stroke="#111" stroke-width="0.5"/>
<line x1="351.10" y1="430.00" x2="351.80" y2="430.00" stroke="#111" stroke-width="0.5"/>
<line x1="351.10" y1="432.00" x2="351.80" y2="432.00" stroke="#111" stroke-width="0.5"/>
<line x1="351.10" y1="434.00" x2="351.80" y2="434.00" stroke="#111" stroke-width="0.5"/>
<line x1="351.10" y1="436.00" x2="351.80" y2="436.00" stroke="#111" stroke-width="0.5"/>
<line x1="351.10" y1="445.00" x2="351.80" y2="445.00" stroke="#111" stroke-width="0.5"/>
<line x1="351.10" y1="448.00" x2="351.80" y2="448.00" stroke="#111" stroke-width="0.5"/>
<line x1="351.10" y1="451.00" x2="351.80" y2="451.00" stroke="#111" stroke-width="0.5"/>
<text x="388.50" y="483.40" font-size="4.2" font-weight="bold" text-anchor="middle">10<tspan font-size="2.94" dy="-1.3">3</tspan></text>
<text x="403.30" y="483.40" font-size="4.2" font-weight="bold" text-anchor="middle">10<tspan font-size="2.94" dy="-1.3">4</tspan></text>
<text x="417.00" y="483.40" font-size="4.2" font-weight="bold" text-anchor="middle">10<tspan font-size="2.94" dy="-1.3">5</tspan></text>
<text x="367.60" y="483.60" font-size="4.2" font-weight="bold" text-anchor="middle" >0</text>
<line x1="361.80" y1="475.70" x2="361.80" y2="476.90" stroke="#111" stroke-width="0.5"/>
<line x1="363.80" y1="475.70" x2="363.80" y2="476.90" stroke="#111" stroke-width="0.5"/>
<line x1="365.80" y1="475.70" x2="365.80" y2="476.90" stroke="#111" stroke-width="0.5"/>
<line x1="367.80" y1="475.70" x2="367.80" y2="476.90" stroke="#111" stroke-width="0.5"/>
<line x1="369.80" y1="475.70" x2="369.80" y2="476.90" stroke="#111" stroke-width="0.5"/>
<line x1="371.80" y1="475.70" x2="371.80" y2="476.90" stroke="#111" stroke-width="0.5"/>
<line x1="373.80" y1="475.70" x2="373.80" y2="476.90" stroke="#111" stroke-width="0.5"/>
<line x1="375.80" y1="475.70" x2="375.80" y2="476.90" stroke="#111" stroke-width="0.5"/>
<line x1="377.80" y1="475.70" x2="377.80" y2="476.90" stroke="#111" stroke-width="0.5"/>
<line x1="379.80" y1="475.70" x2="379.80" y2="476.90" stroke="#111" stroke-width="0.5"/>
<line x1="381.80" y1="475.70" x2="381.80" y2="476.90" stroke="#111" stroke-width="0.5"/>
<line x1="383.80" y1="475.70" x2="383.80" y2="476.90" stroke="#111" stroke-width="0.5"/>
<line x1="385.80" y1="475.70" x2="385.80" y2="476.90" stroke="#111" stroke-width="0.5"/>
<line x1="387.80" y1="475.70" x2="387.80" y2="476.90" stroke="#111" stroke-width="0.5"/>
<line x1="389.80" y1="475.70" x2="389.80" y2="476.90" stroke="#111" stroke-width="0.5"/>
<line x1="391.80" y1="475.70" x2="391.80" y2="476.90" stroke="#111" stroke-width="0.5"/>
<line x1="393.80" y1="475.70" x2="393.80" y2="476.90" stroke="#111" stroke-width="0.5"/>
<line x1="395.80" y1="475.70" x2="395.80" y2="476.90" stroke="#111" stroke-width="0.5"/>
<line x1="397.80" y1="475.70" x2="397.80" y2="476.90" stroke="#111" stroke-width="0.5"/>
<line x1="399.80" y1="475.70" x2="399.80" y2="476.90" stroke="#111" stroke-width="0.5"/>
<line x1="401.80" y1="475.70" x2="401.80" y2="476.90" stroke="#111" stroke-width="0.5"/>
<line x1="403.80" y1="475.70" x2="403.80" y2="476.90" stroke="#111" stroke-width="0.5"/>
<line x1="405.80" y1="475.70" x2="405.80" y2="476.90" stroke="#111" stroke-width="0.5"/>
<line x1="407.80" y1="475.70" x2="407.80" y2="476.90" stroke="#111" stroke-width="0.5"/>
<line x1="409.80" y1="475.70" x2="409.80" y2="476.90" stroke="#111" stroke-width="0.5"/>
<line x1="411.80" y1="475.70" x2="411.80" y2="476.90" stroke="#111" stroke-width="0.5"/>
<line x1="413.80" y1="475.70" x2="413.80" y2="476.90" stroke="#111" stroke-width="0.5"/>
<line x1="415.80" y1="475.70" x2="415.80" y2="476.90" stroke="#111" stroke-width="0.5"/>
<rect x="379.50" y="420.4" width="36.00" height="24.3" fill="none" stroke="#333" stroke-width="0.9"/>
<text x="417.20" y="418.90" font-size="6.0" font-weight="bold" text-anchor="end" >20.7</text>
<svg x="436.1" y="408.0" width="68.80" height="67.69999999999999" viewBox="436.1 408.0 68.80 67.69999999999999" overflow="hidden">
<g transform="translate(0.00,0)">
<path d="M442.5,441 L443.5,433.5 C447,430 455,429 462,429.5 C466,430 467.5,433 467.5,437 L466.5,466 L462,466 L462,440 Z" fill="#000" fill-opacity="0.61" filter="url(#spk)"/>
<path d="M465.5,441 C471.5,441.5 477.5,443 482.5,447 C483.5,454 482.5,461 479.5,468 L465.5,468 Z" fill="#000" fill-opacity="0.32" filter="url(#spk)"/>
<path d="M468.5,445.5 C467.5,439.5 471.5,433.5 479.5,429 C484.5,426 488.5,424.5 491,425 C490,431.5 485,439.5 479,443.5 C475,446 470.5,447 468.5,445.5 Z" fill="#000" fill-opacity="0.68" filter="url(#spk)"/>
<path d="M444.3,466.5 L444.2,439 C444.3,436.5 446,434.8 448.6,434.2 C452,433.6 456,433.5 460.5,433.6 C462.5,433.9 463.8,435 464.2,436.8 L463.6,450 L463.2,461.1 C463,464 462.5,465.8 461,466.5 Z" fill="#141414" filter="url(#b04)"/>
<path d="M446.8,462.2 L446.7,440 C446.8,438.3 447.6,437.3 449.2,436.8 C452,436.2 456,436.1 460,436.3 C461.2,436.6 461.7,437.5 461.7,438.8 L461,462.2 Z" fill="#e0e0e0"/>
<path d="M446.8,462.2 L446.7,440 C446.8,438.3 447.6,437.3 449.2,436.8 C452,436.2 456,436.1 460,436.3 C461.2,436.6 461.7,437.5 461.7,438.8 L461,462.2 Z" fill="#000" fill-opacity="0.17" filter="url(#spk0)"/>
<path d="M448.7,460 L448.6,441 C448.7,439.8 449.3,439 450.6,438.8 C453,438.4 456.5,438.3 459.5,438.6 L459.2,460" fill="none" stroke="#666" stroke-width="0.7" />
<path d="M450.6,457 L450.5,442.5 C450.6,441.4 451.3,440.8 452.5,440.7 C454.5,440.4 456.6,440.4 458,440.6 L457.8,457" fill="none" stroke="#999" stroke-width="0.6" />
<ellipse cx="454.0" cy="464.2" rx="6.2" ry="1.0" fill="#e6e6e6" stroke="none" stroke-width="0" transform="rotate(0 454.0 464.2)"/>
<path d="M473.9,439.8 C472.3,438.1 473.1,435.3 475.5,433.1 C478.5,430.5 483.2,427.8 488.8,426.0 C487.2,429.3 485,433 482.2,436.1 C479.6,438.9 475.7,441.3 473.9,439.8 Z" fill="#e8e8e8" stroke="#111" stroke-width="1.7" />
</g>
</svg>
<text x="467.50" y="399.80" font-size="7.6" font-weight="bold" text-anchor="middle" textLength="50" lengthAdjust="spacingAndGlyphs" >Dasa + Ara-C</text>
<rect x="436.1" y="408.0" width="68.79999999999995" height="67.69999999999999" fill="none" stroke="#222" stroke-width="1"/>
<text x="433.90" y="415.00" font-size="4.2" font-weight="bold" text-anchor="end">10<tspan font-size="2.94" dy="-1.3">5</tspan></text>
<line x1="434.90" y1="413.60" x2="436.10" y2="413.60" stroke="#111" stroke-width="0.8"/>
<text x="433.90" y="428.40" font-size="4.2" font-weight="bold" text-anchor="end">10<tspan font-size="2.94" dy="-1.3">4</tspan></text>
<line x1="434.90" y1="427.00" x2="436.10" y2="427.00" stroke="#111" stroke-width="0.8"/>
<text x="433.90" y="443.20" font-size="4.2" font-weight="bold" text-anchor="end">10<tspan font-size="2.94" dy="-1.3">3</tspan></text>
<line x1="434.90" y1="441.80" x2="436.10" y2="441.80" stroke="#111" stroke-width="0.8"/>
<text x="433.10" y="462.00" font-size="4.2" font-weight="bold" text-anchor="end" >0</text>
<line x1="434.90" y1="460.50" x2="436.10" y2="460.50" stroke="#111" stroke-width="0.8"/>
<line x1="435.40" y1="416.00" x2="436.10" y2="416.00" stroke="#111" stroke-width="0.5"/>
<line x1="435.40" y1="418.00" x2="436.10" y2="418.00" stroke="#111" stroke-width="0.5"/>
<line x1="435.40" y1="420.00" x2="436.10" y2="420.00" stroke="#111" stroke-width="0.5"/>
<line x1="435.40" y1="422.00" x2="436.10" y2="422.00" stroke="#111" stroke-width="0.5"/>
<line x1="435.40" y1="430.00" x2="436.10" y2="430.00" stroke="#111" stroke-width="0.5"/>
<line x1="435.40" y1="432.00" x2="436.10" y2="432.00" stroke="#111" stroke-width="0.5"/>
<line x1="435.40" y1="434.00" x2="436.10" y2="434.00" stroke="#111" stroke-width="0.5"/>
<line x1="435.40" y1="436.00" x2="436.10" y2="436.00" stroke="#111" stroke-width="0.5"/>
<line x1="435.40" y1="445.00" x2="436.10" y2="445.00" stroke="#111" stroke-width="0.5"/>
<line x1="435.40" y1="448.00" x2="436.10" y2="448.00" stroke="#111" stroke-width="0.5"/>
<line x1="435.40" y1="451.00" x2="436.10" y2="451.00" stroke="#111" stroke-width="0.5"/>
<text x="472.80" y="483.40" font-size="4.2" font-weight="bold" text-anchor="middle">10<tspan font-size="2.94" dy="-1.3">3</tspan></text>
<text x="487.60" y="483.40" font-size="4.2" font-weight="bold" text-anchor="middle">10<tspan font-size="2.94" dy="-1.3">4</tspan></text>
<text x="501.30" y="483.40" font-size="4.2" font-weight="bold" text-anchor="middle">10<tspan font-size="2.94" dy="-1.3">5</tspan></text>
<text x="451.90" y="483.60" font-size="4.2" font-weight="bold" text-anchor="middle" >0</text>
<line x1="446.10" y1="475.70" x2="446.10" y2="476.90" stroke="#111" stroke-width="0.5"/>
<line x1="448.10" y1="475.70" x2="448.10" y2="476.90" stroke="#111" stroke-width="0.5"/>
<line x1="450.10" y1="475.70" x2="450.10" y2="476.90" stroke="#111" stroke-width="0.5"/>
<line x1="452.10" y1="475.70" x2="452.10" y2="476.90" stroke="#111" stroke-width="0.5"/>
<line x1="454.10" y1="475.70" x2="454.10" y2="476.90" stroke="#111" stroke-width="0.5"/>
<line x1="456.10" y1="475.70" x2="456.10" y2="476.90" stroke="#111" stroke-width="0.5"/>
<line x1="458.10" y1="475.70" x2="458.10" y2="476.90" stroke="#111" stroke-width="0.5"/>
<line x1="460.10" y1="475.70" x2="460.10" y2="476.90" stroke="#111" stroke-width="0.5"/>
<line x1="462.10" y1="475.70" x2="462.10" y2="476.90" stroke="#111" stroke-width="0.5"/>
<line x1="464.10" y1="475.70" x2="464.10" y2="476.90" stroke="#111" stroke-width="0.5"/>
<line x1="466.10" y1="475.70" x2="466.10" y2="476.90" stroke="#111" stroke-width="0.5"/>
<line x1="468.10" y1="475.70" x2="468.10" y2="476.90" stroke="#111" stroke-width="0.5"/>
<line x1="470.10" y1="475.70" x2="470.10" y2="476.90" stroke="#111" stroke-width="0.5"/>
<line x1="472.10" y1="475.70" x2="472.10" y2="476.90" stroke="#111" stroke-width="0.5"/>
<line x1="474.10" y1="475.70" x2="474.10" y2="476.90" stroke="#111" stroke-width="0.5"/>
<line x1="476.10" y1="475.70" x2="476.10" y2="476.90" stroke="#111" stroke-width="0.5"/>
<line x1="478.10" y1="475.70" x2="478.10" y2="476.90" stroke="#111" stroke-width="0.5"/>
<line x1="480.10" y1="475.70" x2="480.10" y2="476.90" stroke="#111" stroke-width="0.5"/>
<line x1="482.10" y1="475.70" x2="482.10" y2="476.90" stroke="#111" stroke-width="0.5"/>
<line x1="484.10" y1="475.70" x2="484.10" y2="476.90" stroke="#111" stroke-width="0.5"/>
<line x1="486.10" y1="475.70" x2="486.10" y2="476.90" stroke="#111" stroke-width="0.5"/>
<line x1="488.10" y1="475.70" x2="488.10" y2="476.90" stroke="#111" stroke-width="0.5"/>
<line x1="490.10" y1="475.70" x2="490.10" y2="476.90" stroke="#111" stroke-width="0.5"/>
<line x1="492.10" y1="475.70" x2="492.10" y2="476.90" stroke="#111" stroke-width="0.5"/>
<line x1="494.10" y1="475.70" x2="494.10" y2="476.90" stroke="#111" stroke-width="0.5"/>
<line x1="496.10" y1="475.70" x2="496.10" y2="476.90" stroke="#111" stroke-width="0.5"/>
<line x1="498.10" y1="475.70" x2="498.10" y2="476.90" stroke="#111" stroke-width="0.5"/>
<line x1="500.10" y1="475.70" x2="500.10" y2="476.90" stroke="#111" stroke-width="0.5"/>
<rect x="464.20" y="420.4" width="35.60" height="24.3" fill="none" stroke="#333" stroke-width="0.9"/>
<text x="501.50" y="418.90" font-size="6.0" font-weight="bold" text-anchor="end" >7.2</text>
<line x1="65.40" y1="610.40" x2="65.40" y2="544.50" stroke="#000" stroke-width="1.3"/>
<line x1="63.20" y1="610.40" x2="65.40" y2="610.40" stroke="#000" stroke-width="1.1"/>
<text x="62.40" y="612.20" font-size="5.0" font-weight="bold" text-anchor="end" >0</text>
<line x1="63.20" y1="593.92" x2="65.40" y2="593.92" stroke="#000" stroke-width="1.1"/>
<text x="62.40" y="595.72" font-size="5.0" font-weight="bold" text-anchor="end" >20</text>
<line x1="63.20" y1="577.45" x2="65.40" y2="577.45" stroke="#000" stroke-width="1.1"/>
<text x="62.40" y="579.25" font-size="5.0" font-weight="bold" text-anchor="end" >40</text>
<line x1="63.20" y1="560.98" x2="65.40" y2="560.98" stroke="#000" stroke-width="1.1"/>
<text x="62.40" y="562.77" font-size="5.0" font-weight="bold" text-anchor="end" >60</text>
<line x1="63.20" y1="544.50" x2="65.40" y2="544.50" stroke="#000" stroke-width="1.1"/>
<text x="62.40" y="546.30" font-size="5.0" font-weight="bold" text-anchor="end" >80</text>
<line x1="64.75" y1="610.40" x2="178.50" y2="610.40" stroke="#000" stroke-width="1.3"/>
<line x1="75.00" y1="610.40" x2="75.00" y2="612.40" stroke="#000" stroke-width="1.1"/>
<text x="0" y="0" font-size="5.9" font-weight="bold" text-anchor="end" transform="translate(71.40,614.20) rotate(-45) translate(0,4.25)">Ctrl</text>
<line x1="93.80" y1="610.40" x2="93.80" y2="612.40" stroke="#000" stroke-width="1.1"/>
<text x="0" y="0" font-size="5.9" font-weight="bold" text-anchor="end" transform="translate(90.20,614.20) rotate(-45) translate(0,4.25)">D200</text>
<line x1="112.50" y1="610.40" x2="112.50" y2="612.40" stroke="#000" stroke-width="1.1"/>
<text x="0" y="0" font-size="5.9" font-weight="bold" text-anchor="end" transform="translate(108.90,614.20) rotate(-45) translate(0,4.25)">DNR 50nM</text>
<line x1="131.40" y1="610.40" x2="131.40" y2="612.40" stroke="#000" stroke-width="1.1"/>
<text x="0" y="0" font-size="5.9" font-weight="bold" text-anchor="end" transform="translate(127.80,614.20) rotate(-45) translate(0,4.25)">D200-DNR 50nM</text>
<line x1="150.10" y1="610.40" x2="150.10" y2="612.40" stroke="#000" stroke-width="1.1"/>
<text x="0" y="0" font-size="5.9" font-weight="bold" text-anchor="end" transform="translate(146.50,614.20) rotate(-45) translate(0,4.25)">Ara-C 50nM</text>
<line x1="169.00" y1="610.40" x2="169.00" y2="612.40" stroke="#000" stroke-width="1.1"/>
<text x="0" y="0" font-size="5.9" font-weight="bold" text-anchor="end" transform="translate(165.40,614.20) rotate(-45) translate(0,4.25)">D200-Ara-C 50nM</text>
<text x="0" y="0" font-size="5.6" font-weight="bold" text-anchor="middle" textLength="64.4" lengthAdjust="spacingAndGlyphs" transform="translate(53.22,578.00) rotate(-90)">%of hCD45 positive cells</text>
<text x="124.90" y="513.00" font-size="7.0" font-weight="bold" text-anchor="middle" textLength="36.3" lengthAdjust="spacingAndGlyphs" >CB sample</text>
<circle cx="75.00" cy="574.00" r="1.70" fill="#000"/>
<circle cx="79.60" cy="606.30" r="1.70" fill="#000"/>
<circle cx="72.00" cy="609.60" r="1.70" fill="#000"/>
<circle cx="75.00" cy="609.60" r="1.70" fill="#000"/>
<circle cx="78.00" cy="609.60" r="1.70" fill="#000"/>
<line x1="68.80" y1="602.30" x2="81.20" y2="602.30" stroke="#000" stroke-width="1.3"/>
<line x1="75.00" y1="595.40" x2="75.00" y2="609.80" stroke="#000" stroke-width="1.3"/>
<line x1="72.00" y1="595.40" x2="78.00" y2="595.40" stroke="#000" stroke-width="1.3"/>
<line x1="72.00" y1="609.80" x2="78.00" y2="609.80" stroke="#000" stroke-width="1.3"/>
<rect x="92.20" y="576.80" width="3.20" height="3.20" fill="#111"/>
<rect x="92.20" y="592.60" width="3.20" height="3.20" fill="#111"/>
<rect x="92.20" y="603.80" width="3.20" height="3.20" fill="#111"/>
<rect x="92.20" y="608.20" width="3.20" height="3.20" fill="#111"/>
<line x1="87.60" y1="597.50" x2="100.00" y2="597.50" stroke="#000" stroke-width="1.3"/>
<line x1="93.80" y1="590.00" x2="93.80" y2="605.40" stroke="#000" stroke-width="1.3"/>
<line x1="90.80" y1="590.00" x2="96.80" y2="590.00" stroke="#000" stroke-width="1.3"/>
<line x1="90.80" y1="605.40" x2="96.80" y2="605.40" stroke="#000" stroke-width="1.3"/>
<path d="M109.00,605.70L110.80,608.94L107.20,608.94Z" fill="#111"/>
<path d="M111.50,606.20L113.30,609.44L109.70,609.44Z" fill="#111"/>
<path d="M114.00,605.50L115.80,608.74L112.20,608.74Z" fill="#111"/>
<path d="M116.50,606.00L118.30,609.24L114.70,609.24Z" fill="#111"/>
<line x1="106.30" y1="607.50" x2="118.70" y2="607.50" stroke="#000" stroke-width="1.3"/>
<line x1="112.50" y1="606.50" x2="112.50" y2="608.50" stroke="#000" stroke-width="1.3"/>
<line x1="109.50" y1="606.50" x2="115.50" y2="606.50" stroke="#000" stroke-width="1.3"/>
<line x1="109.50" y1="608.50" x2="115.50" y2="608.50" stroke="#000" stroke-width="1.3"/>
<path d="M131.40,593.70L133.20,590.46L129.60,590.46Z" fill="#111"/>
<path d="M129.80,610.30L131.60,607.06L128.00,607.06Z" fill="#111"/>
<path d="M133.00,610.30L134.80,607.06L131.20,607.06Z" fill="#111"/>
<line x1="125.20" y1="602.50" x2="137.60" y2="602.50" stroke="#000" stroke-width="1.3"/>
<line x1="131.40" y1="598.80" x2="131.40" y2="606.90" stroke="#000" stroke-width="1.3"/>
<line x1="128.40" y1="598.80" x2="134.40" y2="598.80" stroke="#000" stroke-width="1.3"/>
<line x1="128.40" y1="606.90" x2="134.40" y2="606.90" stroke="#000" stroke-width="1.3"/>
<path d="M146.60,605.70L148.40,607.50L146.60,609.30L144.80,607.50Z" fill="#111"/>
<path d="M149.10,606.00L150.90,607.80L149.10,609.60L147.30,607.80Z" fill="#111"/>
<path d="M151.60,605.50L153.40,607.30L151.60,609.10L149.80,607.30Z" fill="#111"/>
<path d="M154.10,605.80L155.90,607.60L154.10,609.40L152.30,607.60Z" fill="#111"/>
<line x1="143.90" y1="607.50" x2="156.30" y2="607.50" stroke="#000" stroke-width="1.3"/>
<line x1="150.10" y1="606.70" x2="150.10" y2="608.30" stroke="#000" stroke-width="1.3"/>
<line x1="147.10" y1="606.70" x2="153.10" y2="606.70" stroke="#000" stroke-width="1.3"/>
<line x1="147.10" y1="608.30" x2="153.10" y2="608.30" stroke="#000" stroke-width="1.3"/>
<circle cx="169.00" cy="562.20" r="1.55" fill="#fff" stroke="#000" stroke-width="1.05"/>
<circle cx="166.60" cy="609.40" r="1.55" fill="#fff" stroke="#000" stroke-width="1.05"/>
<circle cx="171.40" cy="608.60" r="1.55" fill="#fff" stroke="#000" stroke-width="1.05"/>
<line x1="162.80" y1="595.40" x2="175.20" y2="595.40" stroke="#000" stroke-width="1.3"/>
<line x1="169.00" y1="584.40" x2="169.00" y2="609.80" stroke="#000" stroke-width="1.3"/>
<line x1="166.00" y1="584.40" x2="172.00" y2="584.40" stroke="#000" stroke-width="1.3"/>
<line x1="166.00" y1="609.80" x2="172.00" y2="609.80" stroke="#000" stroke-width="1.3"/>
<circle cx="169.00" cy="599.80" r="2.04" fill="#000"/>
<line x1="73.00" y1="527.50" x2="170.30" y2="527.50" stroke="#000" stroke-width="1.7"/>
<line x1="73.00" y1="524.30" x2="73.00" y2="530.70" stroke="#000" stroke-width="1.7"/>
<line x1="170.30" y1="524.30" x2="170.30" y2="530.70" stroke="#000" stroke-width="1.7"/>
<text x="165.10" y="523.60" font-size="5.5" font-weight="bold" text-anchor="middle" >ns</text>
<line x1="93.30" y1="539.50" x2="171.30" y2="539.50" stroke="#000" stroke-width="1.7"/>
<line x1="93.30" y1="536.30" x2="93.30" y2="542.70" stroke="#000" stroke-width="1.7"/>
<line x1="171.30" y1="536.30" x2="171.30" y2="542.70" stroke="#000" stroke-width="1.7"/>
<text x="166.10" y="535.60" font-size="5.5" font-weight="bold" text-anchor="middle" >ns</text>
<line x1="73.00" y1="550.00" x2="131.30" y2="550.00" stroke="#000" stroke-width="1.7"/>
<line x1="73.00" y1="546.80" x2="73.00" y2="553.20" stroke="#000" stroke-width="1.7"/>
<line x1="131.30" y1="546.80" x2="131.30" y2="553.20" stroke="#000" stroke-width="1.7"/>
<text x="126.10" y="546.10" font-size="5.5" font-weight="bold" text-anchor="middle" >ns</text>
<line x1="74.20" y1="561.00" x2="93.80" y2="561.00" stroke="#000" stroke-width="1.7"/>
<line x1="74.20" y1="557.80" x2="74.20" y2="564.20" stroke="#000" stroke-width="1.7"/>
<line x1="93.80" y1="557.80" x2="93.80" y2="564.20" stroke="#000" stroke-width="1.7"/>
<text x="88.60" y="557.10" font-size="5.5" font-weight="bold" text-anchor="middle" >ns</text>
<line x1="93.00" y1="570.50" x2="131.30" y2="570.50" stroke="#000" stroke-width="1.7"/>
<line x1="93.00" y1="567.30" x2="93.00" y2="573.70" stroke="#000" stroke-width="1.7"/>
<line x1="131.30" y1="567.30" x2="131.30" y2="573.70" stroke="#000" stroke-width="1.7"/>
<text x="126.10" y="566.60" font-size="5.5" font-weight="bold" text-anchor="middle" >ns</text>
<line x1="151.20" y1="576.00" x2="170.40" y2="576.00" stroke="#000" stroke-width="1.7"/>
<line x1="151.20" y1="572.80" x2="151.20" y2="579.20" stroke="#000" stroke-width="1.7"/>
<line x1="170.40" y1="572.80" x2="170.40" y2="579.20" stroke="#000" stroke-width="1.7"/>
<text x="165.20" y="572.10" font-size="5.5" font-weight="bold" text-anchor="middle" >ns</text>
<line x1="113.60" y1="586.00" x2="131.30" y2="586.00" stroke="#000" stroke-width="1.7"/>
<line x1="113.60" y1="582.80" x2="113.60" y2="589.20" stroke="#000" stroke-width="1.7"/>
<line x1="131.30" y1="582.80" x2="131.30" y2="589.20" stroke="#000" stroke-width="1.7"/>
<text x="126.10" y="582.10" font-size="5.5" font-weight="bold" text-anchor="middle" >ns</text>
<line x1="290.50" y1="609.20" x2="290.50" y2="543.50" stroke="#000" stroke-width="1.3"/>
<line x1="288.30" y1="609.20" x2="290.50" y2="609.20" stroke="#000" stroke-width="1.1"/>
<text x="287.50" y="611.00" font-size="5.0" font-weight="bold" text-anchor="end" >0</text>
<line x1="288.30" y1="596.06" x2="290.50" y2="596.06" stroke="#000" stroke-width="1.1"/>
<text x="287.50" y="597.86" font-size="5.0" font-weight="bold" text-anchor="end" >2</text>
<line x1="288.30" y1="582.92" x2="290.50" y2="582.92" stroke="#000" stroke-width="1.1"/>
<text x="287.50" y="584.72" font-size="5.0" font-weight="bold" text-anchor="end" >4</text>
<line x1="288.30" y1="569.78" x2="290.50" y2="569.78" stroke="#000" stroke-width="1.1"/>
<text x="287.50" y="571.58" font-size="5.0" font-weight="bold" text-anchor="end" >6</text>
<line x1="288.30" y1="556.64" x2="290.50" y2="556.64" stroke="#000" stroke-width="1.1"/>
<text x="287.50" y="558.44" font-size="5.0" font-weight="bold" text-anchor="end" >8</text>
<line x1="288.30" y1="543.50" x2="290.50" y2="543.50" stroke="#000" stroke-width="1.1"/>
<text x="287.50" y="545.30" font-size="5.0" font-weight="bold" text-anchor="end" >10</text>
<line x1="289.85" y1="609.20" x2="400.50" y2="609.20" stroke="#000" stroke-width="1.3"/>
<line x1="299.50" y1="609.20" x2="299.50" y2="611.20" stroke="#000" stroke-width="1.1"/>
<text x="0" y="0" font-size="5.9" font-weight="bold" text-anchor="end" transform="translate(295.90,613.00) rotate(-45) translate(0,4.25)">Ctrl</text>
<line x1="317.90" y1="609.20" x2="317.90" y2="611.20" stroke="#000" stroke-width="1.1"/>
<text x="0" y="0" font-size="5.9" font-weight="bold" text-anchor="end" transform="translate(314.30,613.00) rotate(-45) translate(0,4.25)">D200</text>
<line x1="336.20" y1="609.20" x2="336.20" y2="611.20" stroke="#000" stroke-width="1.1"/>
<text x="0" y="0" font-size="5.9" font-weight="bold" text-anchor="end" transform="translate(332.60,613.00) rotate(-45) translate(0,4.25)">DNR 50nM</text>
<line x1="354.40" y1="609.20" x2="354.40" y2="611.20" stroke="#000" stroke-width="1.1"/>
<text x="0" y="0" font-size="5.9" font-weight="bold" text-anchor="end" transform="translate(350.80,613.00) rotate(-45) translate(0,4.25)">D200-DNR 50nM</text>
<line x1="372.60" y1="609.20" x2="372.60" y2="611.20" stroke="#000" stroke-width="1.1"/>
<text x="0" y="0" font-size="5.9" font-weight="bold" text-anchor="end" transform="translate(369.00,613.00) rotate(-45) translate(0,4.25)">Ara-C 50nM</text>
<line x1="390.80" y1="609.20" x2="390.80" y2="611.20" stroke="#000" stroke-width="1.1"/>
<text x="0" y="0" font-size="5.9" font-weight="bold" text-anchor="end" transform="translate(387.20,613.00) rotate(-45) translate(0,4.25)">D200-Ara-C 50nM</text>
<text x="0" y="0" font-size="5.4" font-weight="bold" text-anchor="middle" textLength="85.5" lengthAdjust="spacingAndGlyphs" transform="translate(273.14,576.20) rotate(-90)">Absolute number of human CD45</text>
<text x="0" y="0" font-size="5.4" font-weight="bold" text-anchor="middle" textLength="33" lengthAdjust="spacingAndGlyphs" transform="translate(278.54,576.20) rotate(-90)">(million cells)</text>
<text x="345.50" y="511.30" font-size="7.0" font-weight="bold" text-anchor="middle" textLength="36.5" lengthAdjust="spacingAndGlyphs" >CB sample</text>
<circle cx="299.50" cy="593.70" r="1.70" fill="#000"/>
<circle cx="305.00" cy="606.90" r="1.70" fill="#000"/>
<circle cx="296.50" cy="608.00" r="1.70" fill="#000"/>
<circle cx="299.50" cy="608.30" r="1.70" fill="#000"/>
<circle cx="302.50" cy="608.00" r="1.70" fill="#000"/>
<line x1="293.30" y1="605.40" x2="305.70" y2="605.40" stroke="#000" stroke-width="1.3"/>
<line x1="299.50" y1="602.30" x2="299.50" y2="608.00" stroke="#000" stroke-width="1.3"/>
<line x1="296.50" y1="602.30" x2="302.50" y2="602.30" stroke="#000" stroke-width="1.3"/>
<line x1="296.50" y1="608.00" x2="302.50" y2="608.00" stroke="#000" stroke-width="1.3"/>
<rect x="316.30" y="573.90" width="3.20" height="3.20" fill="#111"/>
<rect x="316.30" y="600.70" width="3.20" height="3.20" fill="#111"/>
<rect x="313.70" y="605.90" width="3.20" height="3.20" fill="#111"/>
<rect x="318.90" y="605.90" width="3.20" height="3.20" fill="#111"/>
<line x1="311.70" y1="598.60" x2="324.10" y2="598.60" stroke="#000" stroke-width="1.3"/>
<line x1="317.90" y1="590.50" x2="317.90" y2="607.50" stroke="#000" stroke-width="1.3"/>
<line x1="314.90" y1="590.50" x2="320.90" y2="590.50" stroke="#000" stroke-width="1.3"/>
<line x1="314.90" y1="607.50" x2="320.90" y2="607.50" stroke="#000" stroke-width="1.3"/>
<path d="M332.70,604.90L334.50,608.14L330.90,608.14Z" fill="#111"/>
<path d="M335.20,605.20L337.00,608.44L333.40,608.44Z" fill="#111"/>
<path d="M337.70,604.70L339.50,607.94L335.90,607.94Z" fill="#111"/>
<path d="M340.20,605.00L342.00,608.24L338.40,608.24Z" fill="#111"/>
<line x1="330.00" y1="606.70" x2="342.40" y2="606.70" stroke="#000" stroke-width="1.3"/>
<line x1="336.20" y1="605.80" x2="336.20" y2="607.60" stroke="#000" stroke-width="1.3"/>
<line x1="333.20" y1="605.80" x2="339.20" y2="605.80" stroke="#000" stroke-width="1.3"/>
<line x1="333.20" y1="607.60" x2="339.20" y2="607.60" stroke="#000" stroke-width="1.3"/>
<path d="M354.40,591.60L356.20,588.36L352.60,588.36Z" fill="#111"/>
<path d="M352.00,609.30L353.80,606.06L350.20,606.06Z" fill="#111"/>
<path d="M356.80,609.30L358.60,606.06L355.00,606.06Z" fill="#111"/>
<line x1="348.20" y1="602.80" x2="360.60" y2="602.80" stroke="#000" stroke-width="1.3"/>
<line x1="354.40" y1="598.20" x2="354.40" y2="607.70" stroke="#000" stroke-width="1.3"/>
<line x1="351.40" y1="598.20" x2="357.40" y2="598.20" stroke="#000" stroke-width="1.3"/>
<line x1="351.40" y1="607.70" x2="357.40" y2="607.70" stroke="#000" stroke-width="1.3"/>
<path d="M369.10,605.30L370.90,607.10L369.10,608.90L367.30,607.10Z" fill="#111"/>
<path d="M371.60,605.60L373.40,607.40L371.60,609.20L369.80,607.40Z" fill="#111"/>
<path d="M374.10,605.10L375.90,606.90L374.10,608.70L372.30,606.90Z" fill="#111"/>
<path d="M376.60,605.40L378.40,607.20L376.60,609.00L374.80,607.20Z" fill="#111"/>
<line x1="366.40" y1="607.10" x2="378.80" y2="607.10" stroke="#000" stroke-width="1.3"/>
<line x1="372.60" y1="606.30" x2="372.60" y2="607.90" stroke="#000" stroke-width="1.3"/>
<line x1="369.60" y1="606.30" x2="375.60" y2="606.30" stroke="#000" stroke-width="1.3"/>
<line x1="369.60" y1="607.90" x2="375.60" y2="607.90" stroke="#000" stroke-width="1.3"/>
<circle cx="390.80" cy="558.10" r="1.55" fill="#fff" stroke="#000" stroke-width="1.05"/>
<circle cx="388.40" cy="608.00" r="1.55" fill="#fff" stroke="#000" stroke-width="1.05"/>
<circle cx="393.20" cy="608.00" r="1.55" fill="#fff" stroke="#000" stroke-width="1.05"/>
<line x1="384.60" y1="595.00" x2="397.00" y2="595.00" stroke="#000" stroke-width="1.3"/>
<line x1="390.80" y1="582.70" x2="390.80" y2="609.00" stroke="#000" stroke-width="1.3"/>
<line x1="387.80" y1="582.70" x2="393.80" y2="582.70" stroke="#000" stroke-width="1.3"/>
<line x1="387.80" y1="609.00" x2="393.80" y2="609.00" stroke="#000" stroke-width="1.3"/>
<circle cx="390.80" cy="603.30" r="2.04" fill="#000"/>
<line x1="298.00" y1="527.00" x2="391.50" y2="527.00" stroke="#000" stroke-width="1.7"/>
<line x1="298.00" y1="523.80" x2="298.00" y2="530.20" stroke="#000" stroke-width="1.7"/>
<line x1="391.50" y1="523.80" x2="391.50" y2="530.20" stroke="#000" stroke-width="1.7"/>
<text x="386.30" y="523.10" font-size="5.5" font-weight="bold" text-anchor="middle" >ns</text>
<line x1="317.70" y1="539.00" x2="392.90" y2="539.00" stroke="#000" stroke-width="1.7"/>
<line x1="317.70" y1="535.80" x2="317.70" y2="542.20" stroke="#000" stroke-width="1.7"/>
<line x1="392.90" y1="535.80" x2="392.90" y2="542.20" stroke="#000" stroke-width="1.7"/>
<text x="387.70" y="535.10" font-size="5.5" font-weight="bold" text-anchor="middle" >ns</text>
<line x1="298.80" y1="548.50" x2="354.40" y2="548.50" stroke="#000" stroke-width="1.7"/>
<line x1="298.80" y1="545.30" x2="298.80" y2="551.70" stroke="#000" stroke-width="1.7"/>
<line x1="354.40" y1="545.30" x2="354.40" y2="551.70" stroke="#000" stroke-width="1.7"/>
<text x="349.20" y="544.60" font-size="5.5" font-weight="bold" text-anchor="middle" >ns</text>
<line x1="299.20" y1="560.00" x2="318.20" y2="560.00" stroke="#000" stroke-width="1.7"/>
<line x1="299.20" y1="556.80" x2="299.20" y2="563.20" stroke="#000" stroke-width="1.7"/>
<line x1="318.20" y1="556.80" x2="318.20" y2="563.20" stroke="#000" stroke-width="1.7"/>
<text x="313.00" y="556.10" font-size="5.5" font-weight="bold" text-anchor="middle" >ns</text>
<line x1="317.40" y1="569.50" x2="354.40" y2="569.50" stroke="#000" stroke-width="1.7"/>
<line x1="317.40" y1="566.30" x2="317.40" y2="572.70" stroke="#000" stroke-width="1.7"/>
<line x1="354.40" y1="566.30" x2="354.40" y2="572.70" stroke="#000" stroke-width="1.7"/>
<text x="349.20" y="565.60" font-size="5.5" font-weight="bold" text-anchor="middle" >ns</text>
<line x1="373.40" y1="574.50" x2="391.90" y2="574.50" stroke="#000" stroke-width="1.7"/>
<line x1="373.40" y1="571.30" x2="373.40" y2="577.70" stroke="#000" stroke-width="1.7"/>
<line x1="391.90" y1="571.30" x2="391.90" y2="577.70" stroke="#000" stroke-width="1.7"/>
<text x="386.70" y="570.60" font-size="5.5" font-weight="bold" text-anchor="middle" >ns</text>
<line x1="337.00" y1="584.50" x2="354.40" y2="584.50" stroke="#000" stroke-width="1.7"/>
<line x1="337.00" y1="581.30" x2="337.00" y2="587.70" stroke="#000" stroke-width="1.7"/>
<line x1="354.40" y1="581.30" x2="354.40" y2="587.70" stroke="#000" stroke-width="1.7"/>
<text x="349.20" y="580.60" font-size="5.5" font-weight="bold" text-anchor="middle" >ns</text>
</svg>
</body></html>
